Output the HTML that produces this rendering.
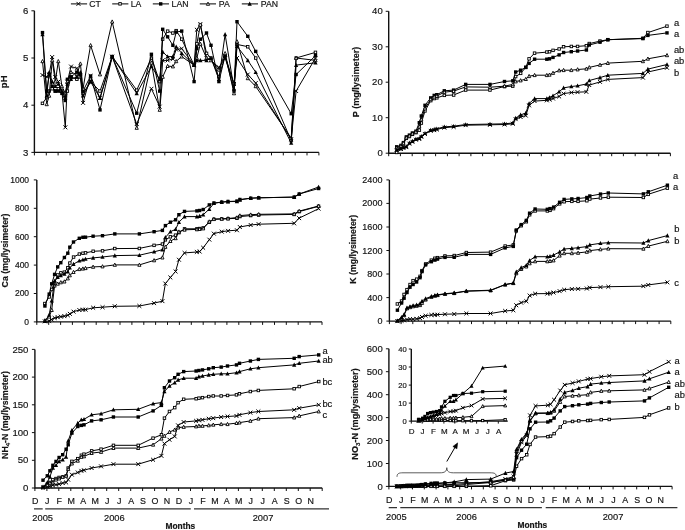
<!DOCTYPE html>
<html><head><meta charset="utf-8"><title>Leachate chemistry</title>
<style>
html,body{margin:0;padding:0;background:#fff}
body{width:685px;height:530px;overflow:hidden}
svg{display:block;font-family:"Liberation Sans",sans-serif;fill:#151515;stroke:#151515;stroke-width:0.18;will-change:transform;filter:grayscale(1)}
.ax{fill:none;stroke:#111;stroke-width:1.4}
.tk{fill:none;stroke:#111;stroke-width:1}
.br{fill:none;stroke:#333;stroke-width:0.8}
.ul{fill:none;stroke:#333;stroke-width:1.1}
.ln{fill:none;stroke:#000;stroke-width:1;stroke-linejoin:round}
.mk{fill:none;stroke:#000;stroke-width:1}
.os{fill:#fff;stroke:#000;stroke-width:0.9}
.fs{fill:#000;stroke:none}
</style></head>
<body>
<svg width="685" height="530" viewBox="0 0 685 530">
<rect width="685" height="530" fill="#fff" stroke="none"/>
<path class="ax" d="M34.4 10.8V152.4H318.9"/>
<text transform="translate(28.4 155.6) scale(1 1)" font-size="9.6" text-anchor="end">3</text>
<text transform="translate(28.4 108.4) scale(1 1)" font-size="9.6" text-anchor="end">4</text>
<text transform="translate(28.4 61.2) scale(1 1)" font-size="9.6" text-anchor="end">5</text>
<text transform="translate(28.4 14) scale(1 1)" font-size="9.6" text-anchor="end">6</text>
<path class="tk" d="M31.4 152.4h3M31.4 105.2h3M31.4 58h3M31.4 10.8h3M34.4 152.4v3M46.3 152.4v3M58.1 152.4v3M70 152.4v3M81.8 152.4v3M93.7 152.4v3M105.5 152.4v3M117.4 152.4v3M129.2 152.4v3M141.1 152.4v3M152.9 152.4v3M164.8 152.4v3M176.7 152.4v3M188.5 152.4v3M200.4 152.4v3M212.2 152.4v3M224.1 152.4v3M235.9 152.4v3M247.8 152.4v3M259.6 152.4v3M271.5 152.4v3M283.3 152.4v3M295.2 152.4v3M307 152.4v3M318.9 152.4v3"/>
<polyline class="ln" points="42.5,75 46.7,76.9 49.2,74.5 52.2,57.1 55.3,76.9 58.3,81.6 61.9,91.1 65.3,127.4 67.4,81.6 71,66.5 76.8,68.4 80.4,76.9 83,102.9 90.6,76 100,98.1 112.2,56.6 136.7,124.1 151.4,88.7 159.7,106.6 162.7,60.4 167.6,60.4 172.9,59 176.2,49.5 181.7,48.6 194.1,65.1 196.8,29.7 200.4,24.1 206.5,58 211,60.4 218.9,67.5 225.1,58 234,84 237,58 247.8,74.5 255.7,83 291.2,139.2 296.1,91.1 315.5,58"/>
<g><path d="M40.5 73.1L44.4 77M40.5 77L44.4 73.1" class="mk"/><path d="M44.8 75L48.7 78.9M44.8 78.9L48.7 75" class="mk"/><path d="M47.3 72.6L51.2 76.5M47.3 76.5L51.2 72.6" class="mk"/><path d="M50.2 55.1L54.1 59M50.2 59L54.1 55.1" class="mk"/><path d="M53.3 75L57.2 78.9M53.3 78.9L57.2 75" class="mk"/><path d="M56.4 79.7L60.3 83.6M56.4 83.6L60.3 79.7" class="mk"/><path d="M60 89.1L63.9 93M60 93L63.9 89.1" class="mk"/><path d="M63.4 125.4L67.3 129.3M63.4 129.3L67.3 125.4" class="mk"/><path d="M65.4 79.7L69.3 83.6M65.4 83.6L69.3 79.7" class="mk"/><path d="M69.1 64.6L73 68.5M69.1 68.5L73 64.6" class="mk"/><path d="M74.9 66.5L78.8 70.4M74.9 70.4L78.8 66.5" class="mk"/><path d="M78.4 75L82.3 78.9M78.4 78.9L82.3 75" class="mk"/><path d="M81.1 100.9L85 104.8M81.1 104.8L85 100.9" class="mk"/><path d="M88.6 74L92.5 77.9M88.6 77.9L92.5 74" class="mk"/><path d="M98 96.2L101.9 100.1M98 100.1L101.9 96.2" class="mk"/><path d="M110.2 54.7L114.1 58.6M110.2 58.6L114.1 54.7" class="mk"/><path d="M134.8 122.1L138.7 126M134.8 126L138.7 122.1" class="mk"/><path d="M149.5 86.8L153.4 90.7M149.5 90.7L153.4 86.8" class="mk"/><path d="M157.7 104.7L161.6 108.6M157.7 108.6L161.6 104.7" class="mk"/><path d="M160.7 58.4L164.6 62.3M160.7 62.3L164.6 58.4" class="mk"/><path d="M165.7 58.4L169.6 62.3M165.7 62.3L169.6 58.4" class="mk"/><path d="M170.9 57L174.8 60.9M170.9 60.9L174.8 57" class="mk"/><path d="M174.2 47.6L178.1 51.5M174.2 51.5L178.1 47.6" class="mk"/><path d="M179.8 46.6L183.7 50.5M179.8 50.5L183.7 46.6" class="mk"/><path d="M192.1 63.2L196 67.1M192.1 67.1L196 63.2" class="mk"/><path d="M194.9 27.8L198.8 31.7M194.9 31.7L198.8 27.8" class="mk"/><path d="M198.4 22.1L202.3 26M198.4 26L202.3 22.1" class="mk"/><path d="M204.6 56.1L208.5 60M204.6 60L208.5 56.1" class="mk"/><path d="M209.1 58.4L213 62.3M209.1 62.3L213 58.4" class="mk"/><path d="M216.9 65.5L220.8 69.4M216.9 69.4L220.8 65.5" class="mk"/><path d="M223.2 56.1L227.1 60M223.2 60L227.1 56.1" class="mk"/><path d="M232.1 82L236 85.9M232.1 85.9L236 82" class="mk"/><path d="M235 56.1L238.9 60M235 60L238.9 56.1" class="mk"/><path d="M245.8 72.6L249.7 76.5M245.8 76.5L249.7 72.6" class="mk"/><path d="M253.8 81.1L257.7 85M253.8 85L257.7 81.1" class="mk"/><path d="M289.2 137.2L293.1 141.1M289.2 141.1L293.1 137.2" class="mk"/><path d="M294.2 89.1L298.1 93M294.2 93L298.1 89.1" class="mk"/><path d="M313.5 56.1L317.4 60M313.5 60L317.4 56.1" class="mk"/></g>
<polyline class="ln" points="42.5,103.3 46.7,97.7 49.2,91.1 52.2,88.7 55.3,91.1 58.3,88.7 61.9,91.1 65.3,95.8 67.4,91.1 71,76.9 76.8,79.3 80.4,76.9 83,93.4 90.6,81.6 100,91.1 112.2,56.6 136.7,90.1 151.4,58 159.7,81.6 162.7,39.2 167.6,31.1 172.9,33 176.2,30.7 181.7,39.2 194.1,65.1 196.8,43.9 200.4,25 206.5,53.3 211,58 218.9,76.9 225.1,55.7 234,84 237,44.4 247.8,46.7 255.7,58 291.2,140.6 296.1,58 315.5,52.4"/>
<g><rect x="41.2" y="102.1" width="2.5" height="2.5" class="os"/><rect x="45.5" y="96.4" width="2.5" height="2.5" class="os"/><rect x="48" y="89.8" width="2.5" height="2.5" class="os"/><rect x="50.9" y="87.5" width="2.5" height="2.5" class="os"/><rect x="54" y="89.8" width="2.5" height="2.5" class="os"/><rect x="57.1" y="87.5" width="2.5" height="2.5" class="os"/><rect x="60.7" y="89.8" width="2.5" height="2.5" class="os"/><rect x="64.1" y="94.5" width="2.5" height="2.5" class="os"/><rect x="66.1" y="89.8" width="2.5" height="2.5" class="os"/><rect x="69.8" y="75.7" width="2.5" height="2.5" class="os"/><rect x="75.6" y="78" width="2.5" height="2.5" class="os"/><rect x="79.1" y="75.7" width="2.5" height="2.5" class="os"/><rect x="81.8" y="92.2" width="2.5" height="2.5" class="os"/><rect x="89.3" y="80.4" width="2.5" height="2.5" class="os"/><rect x="98.7" y="89.8" width="2.5" height="2.5" class="os"/><rect x="110.9" y="55.4" width="2.5" height="2.5" class="os"/><rect x="135.5" y="88.9" width="2.5" height="2.5" class="os"/><rect x="150.2" y="56.8" width="2.5" height="2.5" class="os"/><rect x="158.4" y="80.4" width="2.5" height="2.5" class="os"/><rect x="161.4" y="37.9" width="2.5" height="2.5" class="os"/><rect x="166.4" y="29.9" width="2.5" height="2.5" class="os"/><rect x="171.6" y="31.8" width="2.5" height="2.5" class="os"/><rect x="174.9" y="29.4" width="2.5" height="2.5" class="os"/><rect x="180.5" y="37.9" width="2.5" height="2.5" class="os"/><rect x="192.8" y="63.9" width="2.5" height="2.5" class="os"/><rect x="195.6" y="42.6" width="2.5" height="2.5" class="os"/><rect x="199.1" y="23.8" width="2.5" height="2.5" class="os"/><rect x="205.3" y="52.1" width="2.5" height="2.5" class="os"/><rect x="209.8" y="56.8" width="2.5" height="2.5" class="os"/><rect x="217.6" y="75.7" width="2.5" height="2.5" class="os"/><rect x="223.9" y="54.4" width="2.5" height="2.5" class="os"/><rect x="232.8" y="82.7" width="2.5" height="2.5" class="os"/><rect x="235.7" y="43.1" width="2.5" height="2.5" class="os"/><rect x="246.5" y="45.5" width="2.5" height="2.5" class="os"/><rect x="254.5" y="56.8" width="2.5" height="2.5" class="os"/><rect x="289.9" y="139.4" width="2.5" height="2.5" class="os"/><rect x="294.9" y="56.8" width="2.5" height="2.5" class="os"/><rect x="314.2" y="51.1" width="2.5" height="2.5" class="os"/></g>
<polyline class="ln" points="42.5,32.6 46.7,91.1 49.2,74.5 52.2,86.3 55.3,91.1 58.3,91.1 61.9,93.4 65.3,100.5 67.4,79.3 71,76.9 76.8,72.2 80.4,74.5 83,91.1 90.6,76 100,109.9 112.2,56.6 136.7,113.2 151.4,54.3 159.7,91.1 162.7,29.3 167.6,36.8 172.9,45.3 176.2,32.1 181.7,31.1 194.1,81.6 196.8,48.6 200.4,39.2 206.5,33 211,45.3 218.9,81.6 225.1,55.7 234,91.1 237,21.7 247.8,36.3 255.7,51.4 291.2,113.7 296.1,74.5 315.5,55.7"/>
<g><rect x="40.8" y="30.9" width="3.4" height="3.4" class="fs"/><rect x="45" y="89.4" width="3.4" height="3.4" class="fs"/><rect x="47.5" y="72.8" width="3.4" height="3.4" class="fs"/><rect x="50.5" y="84.6" width="3.4" height="3.4" class="fs"/><rect x="53.6" y="89.4" width="3.4" height="3.4" class="fs"/><rect x="56.6" y="89.4" width="3.4" height="3.4" class="fs"/><rect x="60.2" y="91.7" width="3.4" height="3.4" class="fs"/><rect x="63.6" y="98.8" width="3.4" height="3.4" class="fs"/><rect x="65.7" y="77.6" width="3.4" height="3.4" class="fs"/><rect x="69.3" y="75.2" width="3.4" height="3.4" class="fs"/><rect x="75.1" y="70.5" width="3.4" height="3.4" class="fs"/><rect x="78.7" y="72.8" width="3.4" height="3.4" class="fs"/><rect x="81.3" y="89.4" width="3.4" height="3.4" class="fs"/><rect x="88.9" y="74.3" width="3.4" height="3.4" class="fs"/><rect x="98.3" y="108.2" width="3.4" height="3.4" class="fs"/><rect x="110.5" y="54.9" width="3.4" height="3.4" class="fs"/><rect x="135" y="111.5" width="3.4" height="3.4" class="fs"/><rect x="149.7" y="52.6" width="3.4" height="3.4" class="fs"/><rect x="158" y="89.4" width="3.4" height="3.4" class="fs"/><rect x="161" y="27.6" width="3.4" height="3.4" class="fs"/><rect x="165.9" y="35.1" width="3.4" height="3.4" class="fs"/><rect x="171.2" y="43.6" width="3.4" height="3.4" class="fs"/><rect x="174.5" y="30.4" width="3.4" height="3.4" class="fs"/><rect x="180" y="29.4" width="3.4" height="3.4" class="fs"/><rect x="192.4" y="79.9" width="3.4" height="3.4" class="fs"/><rect x="195.1" y="46.9" width="3.4" height="3.4" class="fs"/><rect x="198.7" y="37.5" width="3.4" height="3.4" class="fs"/><rect x="204.8" y="31.3" width="3.4" height="3.4" class="fs"/><rect x="209.3" y="43.6" width="3.4" height="3.4" class="fs"/><rect x="217.2" y="79.9" width="3.4" height="3.4" class="fs"/><rect x="223.4" y="54" width="3.4" height="3.4" class="fs"/><rect x="232.3" y="89.4" width="3.4" height="3.4" class="fs"/><rect x="235.3" y="20" width="3.4" height="3.4" class="fs"/><rect x="246.1" y="34.6" width="3.4" height="3.4" class="fs"/><rect x="254" y="49.7" width="3.4" height="3.4" class="fs"/><rect x="289.5" y="112" width="3.4" height="3.4" class="fs"/><rect x="294.4" y="72.8" width="3.4" height="3.4" class="fs"/><rect x="313.8" y="54" width="3.4" height="3.4" class="fs"/></g>
<polyline class="ln" points="42.5,61.3 46.7,104.3 49.2,95.8 52.2,60.4 55.3,81.6 58.3,61.3 61.9,86.3 65.3,93.4 67.4,81.6 71,72.2 76.8,74.5 80.4,63.7 83,88.7 90.6,45.3 100,74.5 112.2,21.7 136.7,127.9 151.4,62.8 159.7,109.9 162.7,76.9 167.6,66.1 172.9,66.5 176.2,61.3 181.7,56.6 194.1,65.1 196.8,58 200.4,43.9 206.5,58 211,60.4 218.9,69.8 225.1,53.3 234,93.4 237,41.5 247.8,78.3 255.7,86.3 291.2,138.2 296.1,58 315.5,60.4"/>
<g><path d="M42.5 59.5L44.1 62.7L40.9 62.7Z" class="os"/><path d="M46.7 102.5L48.3 105.7L45.1 105.7Z" class="os"/><path d="M49.2 94L50.8 97.2L47.6 97.2Z" class="os"/><path d="M52.2 58.6L53.8 61.8L50.6 61.8Z" class="os"/><path d="M55.3 79.8L56.9 83L53.7 83Z" class="os"/><path d="M58.3 59.5L59.9 62.7L56.7 62.7Z" class="os"/><path d="M61.9 84.5L63.5 87.7L60.3 87.7Z" class="os"/><path d="M65.3 91.6L66.9 94.8L63.7 94.8Z" class="os"/><path d="M67.4 79.8L69 83L65.8 83Z" class="os"/><path d="M71 70.4L72.6 73.6L69.4 73.6Z" class="os"/><path d="M76.8 72.7L78.4 75.9L75.2 75.9Z" class="os"/><path d="M80.4 61.9L82 65.1L78.8 65.1Z" class="os"/><path d="M83 86.9L84.6 90.1L81.4 90.1Z" class="os"/><path d="M90.6 43.5L92.2 46.7L89 46.7Z" class="os"/><path d="M100 72.7L101.6 75.9L98.4 75.9Z" class="os"/><path d="M112.2 19.9L113.8 23.1L110.6 23.1Z" class="os"/><path d="M136.7 126.1L138.3 129.3L135.1 129.3Z" class="os"/><path d="M151.4 61L153 64.2L149.8 64.2Z" class="os"/><path d="M159.7 108.1L161.3 111.3L158.1 111.3Z" class="os"/><path d="M162.7 75.1L164.3 78.3L161.1 78.3Z" class="os"/><path d="M167.6 64.3L169.2 67.5L166 67.5Z" class="os"/><path d="M172.9 64.7L174.5 67.9L171.3 67.9Z" class="os"/><path d="M176.2 59.5L177.8 62.7L174.6 62.7Z" class="os"/><path d="M181.7 54.8L183.3 58L180.1 58Z" class="os"/><path d="M194.1 63.3L195.7 66.5L192.5 66.5Z" class="os"/><path d="M196.8 56.2L198.4 59.4L195.2 59.4Z" class="os"/><path d="M200.4 42.1L202 45.3L198.8 45.3Z" class="os"/><path d="M206.5 56.2L208.1 59.4L204.9 59.4Z" class="os"/><path d="M211 58.6L212.6 61.8L209.4 61.8Z" class="os"/><path d="M218.9 68L220.5 71.2L217.3 71.2Z" class="os"/><path d="M225.1 51.5L226.7 54.7L223.5 54.7Z" class="os"/><path d="M234 91.6L235.6 94.8L232.4 94.8Z" class="os"/><path d="M237 39.7L238.6 42.9L235.4 42.9Z" class="os"/><path d="M247.8 76.5L249.4 79.7L246.2 79.7Z" class="os"/><path d="M255.7 84.5L257.3 87.7L254.1 87.7Z" class="os"/><path d="M291.2 136.4L292.8 139.6L289.6 139.6Z" class="os"/><path d="M296.1 56.2L297.7 59.4L294.5 59.4Z" class="os"/><path d="M315.5 58.6L317.1 61.8L313.9 61.8Z" class="os"/></g>
<polyline class="ln" points="42.5,34.4 46.7,95.8 49.2,72.2 52.2,81.6 55.3,86.3 58.3,84 61.9,91.1 65.3,98.1 67.4,84 71,79.3 76.8,76.9 80.4,72.2 83,95.8 90.6,81.6 100,98.1 112.2,56.6 136.7,93.4 151.4,66.5 159.7,79.3 162.7,51.9 167.6,56.6 172.9,56.6 176.2,46.7 181.7,53.3 194.1,65.1 196.8,60.4 200.4,60.4 206.5,60.4 211,58 218.9,79.3 225.1,34.4 234,88.7 237,46.2 247.8,60.4 255.7,72.2 291.2,143 296.1,65.1 315.5,62.8"/>
<g><path d="M42.5 32.1L44.6 36.2L40.4 36.2Z" class="fs"/><path d="M46.7 93.5L48.8 97.6L44.6 97.6Z" class="fs"/><path d="M49.2 69.9L51.3 74L47.1 74Z" class="fs"/><path d="M52.2 79.3L54.3 83.4L50.1 83.4Z" class="fs"/><path d="M55.3 84L57.4 88.1L53.2 88.1Z" class="fs"/><path d="M58.3 81.7L60.4 85.8L56.2 85.8Z" class="fs"/><path d="M61.9 88.8L64 92.9L59.8 92.9Z" class="fs"/><path d="M65.3 95.8L67.4 99.9L63.2 99.9Z" class="fs"/><path d="M67.4 81.7L69.5 85.8L65.3 85.8Z" class="fs"/><path d="M71 77L73.1 81.1L68.9 81.1Z" class="fs"/><path d="M76.8 74.6L78.9 78.7L74.7 78.7Z" class="fs"/><path d="M80.4 69.9L82.5 74L78.3 74Z" class="fs"/><path d="M83 93.5L85.1 97.6L80.9 97.6Z" class="fs"/><path d="M90.6 79.3L92.7 83.4L88.5 83.4Z" class="fs"/><path d="M100 95.8L102.1 99.9L97.9 99.9Z" class="fs"/><path d="M112.2 54.3L114.3 58.4L110.1 58.4Z" class="fs"/><path d="M136.7 91.1L138.8 95.2L134.6 95.2Z" class="fs"/><path d="M151.4 64.2L153.5 68.3L149.3 68.3Z" class="fs"/><path d="M159.7 77L161.8 81.1L157.6 81.1Z" class="fs"/><path d="M162.7 49.6L164.8 53.7L160.6 53.7Z" class="fs"/><path d="M167.6 54.3L169.7 58.4L165.5 58.4Z" class="fs"/><path d="M172.9 54.3L175 58.4L170.8 58.4Z" class="fs"/><path d="M176.2 44.4L178.3 48.5L174.1 48.5Z" class="fs"/><path d="M181.7 51L183.8 55.1L179.6 55.1Z" class="fs"/><path d="M194.1 62.8L196.2 66.9L192 66.9Z" class="fs"/><path d="M196.8 58.1L198.9 62.2L194.7 62.2Z" class="fs"/><path d="M200.4 58.1L202.5 62.2L198.3 62.2Z" class="fs"/><path d="M206.5 58.1L208.6 62.2L204.4 62.2Z" class="fs"/><path d="M211 55.7L213.1 59.8L208.9 59.8Z" class="fs"/><path d="M218.9 77L221 81.1L216.8 81.1Z" class="fs"/><path d="M225.1 32.1L227.2 36.2L223 36.2Z" class="fs"/><path d="M234 86.4L236.1 90.5L231.9 90.5Z" class="fs"/><path d="M237 43.9L239.1 48L234.9 48Z" class="fs"/><path d="M247.8 58.1L249.9 62.2L245.7 62.2Z" class="fs"/><path d="M255.7 69.9L257.8 74L253.6 74Z" class="fs"/><path d="M291.2 140.7L293.3 144.8L289.1 144.8Z" class="fs"/><path d="M296.1 62.8L298.2 66.9L294 66.9Z" class="fs"/><path d="M315.5 60.5L317.6 64.6L313.4 64.6Z" class="fs"/></g>
<path class="ax" d="M388.7 11.3V153.2H670.4"/>
<text transform="translate(382.7 156.3) scale(1 1)" font-size="9.5" text-anchor="end">0</text>
<text transform="translate(382.7 120.9) scale(1 1)" font-size="9.5" text-anchor="end">10</text>
<text transform="translate(382.7 85.4) scale(1 1)" font-size="9.5" text-anchor="end">20</text>
<text transform="translate(382.7 49.9) scale(1 1)" font-size="9.5" text-anchor="end">30</text>
<text transform="translate(382.7 14.4) scale(1 1)" font-size="9.5" text-anchor="end">40</text>
<path class="tk" d="M385.7 153.2h3M385.7 117.7h3M385.7 82.2h3M385.7 46.8h3M385.7 11.3h3M388.7 153.2v3M400.4 153.2v3M412.2 153.2v3M423.9 153.2v3M435.6 153.2v3M447.4 153.2v3M459.1 153.2v3M470.9 153.2v3M482.6 153.2v3M494.3 153.2v3M506.1 153.2v3M517.8 153.2v3M529.5 153.2v3M541.3 153.2v3M553 153.2v3M564.8 153.2v3M576.5 153.2v3M588.2 153.2v3M600 153.2v3M611.7 153.2v3M623.4 153.2v3M635.2 153.2v3M646.9 153.2v3M658.7 153.2v3M670.4 153.2v3"/>
<polyline class="ln" points="396.7,150 400.9,148.9 403.4,147.9 406.3,147.2 409.4,143.6 412.4,141.8 415.9,139.7 419.3,139 421.3,136.9 425,134 430.7,130.9 434.2,130.1 436.8,129.4 444.3,127.7 453.6,126.9 465.7,125.2 490,124.8 504.5,124.5 512.8,123.8 515.7,119.1 520.6,117 525.8,115.6 529.1,105.3 534.6,101.1 546.8,100.3 549.5,99.6 553,98.6 559.1,96.4 563.6,93.6 571.3,92.5 577.6,92.2 586.4,91.8 589.3,85.1 600,81.9 607.8,79.4 642.9,77.6 647.9,72 667,67.7"/>
<g><path d="M394.7 148.1L398.6 152M394.7 152L398.6 148.1" class="mk"/><path d="M399 147L402.9 150.9M399 150.9L402.9 147" class="mk"/><path d="M401.4 145.9L405.3 149.8M401.4 149.8L405.3 145.9" class="mk"/><path d="M404.4 145.2L408.3 149.1M404.4 149.1L408.3 145.2" class="mk"/><path d="M407.4 141.7L411.3 145.6M407.4 145.6L411.3 141.7" class="mk"/><path d="M410.5 139.9L414.4 143.8M410.5 143.8L414.4 139.9" class="mk"/><path d="M414 137.8L417.9 141.7M414 141.7L417.9 137.8" class="mk"/><path d="M417.4 137.1L421.3 141M417.4 141L421.3 137.1" class="mk"/><path d="M419.4 134.9L423.3 138.8M419.4 138.8L423.3 134.9" class="mk"/><path d="M423 132.1L426.9 136M423 136L426.9 132.1" class="mk"/><path d="M428.8 128.9L432.7 132.8M428.8 132.8L432.7 128.9" class="mk"/><path d="M432.3 128.2L436.2 132.1M432.3 132.1L436.2 128.2" class="mk"/><path d="M434.9 127.5L438.8 131.4M434.9 131.4L438.8 127.5" class="mk"/><path d="M442.4 125.7L446.3 129.6M442.4 129.6L446.3 125.7" class="mk"/><path d="M451.7 125L455.6 128.9M451.7 128.9L455.6 125" class="mk"/><path d="M463.7 123.2L467.6 127.1M463.7 127.1L467.6 123.2" class="mk"/><path d="M488 122.9L491.9 126.8M488 126.8L491.9 122.9" class="mk"/><path d="M502.6 122.5L506.5 126.4M502.6 126.4L506.5 122.5" class="mk"/><path d="M510.8 121.8L514.7 125.7M510.8 125.7L514.7 121.8" class="mk"/><path d="M513.7 117.2L517.6 121.1M513.7 121.1L517.6 117.2" class="mk"/><path d="M518.7 115.1L522.6 119M518.7 119L522.6 115.1" class="mk"/><path d="M523.8 113.6L527.7 117.5M523.8 117.5L527.7 113.6" class="mk"/><path d="M527.1 103.4L531 107.3M527.1 107.3L531 103.4" class="mk"/><path d="M532.6 99.1L536.5 103M532.6 103L536.5 99.1" class="mk"/><path d="M544.9 98.4L548.8 102.3M544.9 102.3L548.8 98.4" class="mk"/><path d="M547.6 97.7L551.5 101.6M547.6 101.6L551.5 97.7" class="mk"/><path d="M551.1 96.6L555 100.5M551.1 100.5L555 96.6" class="mk"/><path d="M557.2 94.5L561.1 98.4M557.2 98.4L561.1 94.5" class="mk"/><path d="M561.6 91.7L565.5 95.6M561.6 95.6L565.5 91.7" class="mk"/><path d="M569.4 90.6L573.3 94.5M569.4 94.5L573.3 90.6" class="mk"/><path d="M575.6 90.2L579.5 94.1M575.6 94.1L579.5 90.2" class="mk"/><path d="M584.4 89.9L588.3 93.8M584.4 93.8L588.3 89.9" class="mk"/><path d="M587.3 83.1L591.2 87M587.3 87L591.2 83.1" class="mk"/><path d="M598 79.9L601.9 83.8M598 83.8L601.9 79.9" class="mk"/><path d="M605.9 77.5L609.8 81.4M605.9 81.4L609.8 77.5" class="mk"/><path d="M641 75.7L644.9 79.6M641 79.6L644.9 75.7" class="mk"/><path d="M645.9 70L649.8 73.9M645.9 73.9L649.8 70" class="mk"/><path d="M665 65.8L668.9 69.7M665 69.7L668.9 65.8" class="mk"/></g>
<polyline class="ln" points="396.7,152.5 400.9,146.8 403.4,144 406.3,138.3 409.4,136.5 412.4,134.4 415.9,132.6 419.3,130.1 421.3,123 425,111 430.7,100.7 434.2,98.6 436.8,97.9 444.3,95.4 453.6,95 465.7,90.1 490,90.1 504.5,86.5 512.8,86.2 515.7,76.6 520.6,73.4 525.8,67.4 529.1,58.8 534.6,53.2 546.8,52.1 549.5,51.7 553,50.3 559.1,48.9 563.6,46.8 571.3,46.4 577.6,46.4 586.4,45.7 589.3,43.6 600,41.1 607.8,39.7 642.9,38.3 647.9,32.6 667,26.2"/>
<g><rect x="395.4" y="151.2" width="2.5" height="2.5" class="os"/><rect x="399.7" y="145.6" width="2.5" height="2.5" class="os"/><rect x="402.1" y="142.7" width="2.5" height="2.5" class="os"/><rect x="405.1" y="137.1" width="2.5" height="2.5" class="os"/><rect x="408.1" y="135.3" width="2.5" height="2.5" class="os"/><rect x="411.2" y="133.1" width="2.5" height="2.5" class="os"/><rect x="414.7" y="131.4" width="2.5" height="2.5" class="os"/><rect x="418.1" y="128.9" width="2.5" height="2.5" class="os"/><rect x="420.1" y="121.8" width="2.5" height="2.5" class="os"/><rect x="423.7" y="109.7" width="2.5" height="2.5" class="os"/><rect x="429.5" y="99.4" width="2.5" height="2.5" class="os"/><rect x="433" y="97.3" width="2.5" height="2.5" class="os"/><rect x="435.6" y="96.6" width="2.5" height="2.5" class="os"/><rect x="443.1" y="94.1" width="2.5" height="2.5" class="os"/><rect x="452.4" y="93.8" width="2.5" height="2.5" class="os"/><rect x="464.4" y="88.8" width="2.5" height="2.5" class="os"/><rect x="488.7" y="88.8" width="2.5" height="2.5" class="os"/><rect x="503.3" y="85.3" width="2.5" height="2.5" class="os"/><rect x="511.5" y="84.9" width="2.5" height="2.5" class="os"/><rect x="514.4" y="75.3" width="2.5" height="2.5" class="os"/><rect x="519.4" y="72.1" width="2.5" height="2.5" class="os"/><rect x="524.5" y="66.1" width="2.5" height="2.5" class="os"/><rect x="527.8" y="57.6" width="2.5" height="2.5" class="os"/><rect x="533.3" y="51.9" width="2.5" height="2.5" class="os"/><rect x="545.6" y="50.8" width="2.5" height="2.5" class="os"/><rect x="548.3" y="50.5" width="2.5" height="2.5" class="os"/><rect x="551.8" y="49.1" width="2.5" height="2.5" class="os"/><rect x="557.9" y="47.7" width="2.5" height="2.5" class="os"/><rect x="562.3" y="45.5" width="2.5" height="2.5" class="os"/><rect x="570.1" y="45.2" width="2.5" height="2.5" class="os"/><rect x="576.3" y="45.2" width="2.5" height="2.5" class="os"/><rect x="585.1" y="44.5" width="2.5" height="2.5" class="os"/><rect x="588" y="42.3" width="2.5" height="2.5" class="os"/><rect x="598.7" y="39.8" width="2.5" height="2.5" class="os"/><rect x="606.6" y="38.4" width="2.5" height="2.5" class="os"/><rect x="641.7" y="37" width="2.5" height="2.5" class="os"/><rect x="646.6" y="31.3" width="2.5" height="2.5" class="os"/><rect x="665.7" y="24.9" width="2.5" height="2.5" class="os"/></g>
<polyline class="ln" points="396.7,146.8 400.9,145.4 403.4,142.6 406.3,136.9 409.4,135.1 412.4,133 415.9,131.2 419.3,122.7 421.3,116 425,105.3 430.7,97.9 434.2,95.4 436.8,94.7 444.3,90.8 453.6,90.1 465.7,84.4 490,84.4 504.5,81.5 512.8,80.8 515.7,72 520.6,70.2 525.8,67.4 529.1,63.4 534.6,59.2 546.8,59.2 549.5,58.8 553,57.4 559.1,54.9 563.6,52.5 571.3,51.7 577.6,51 586.4,50 589.3,45 600,42.2 607.8,39.7 642.9,38.6 647.9,35.4 667,32.9"/>
<g><rect x="395" y="145.1" width="3.4" height="3.4" class="fs"/><rect x="399.2" y="143.7" width="3.4" height="3.4" class="fs"/><rect x="401.7" y="140.9" width="3.4" height="3.4" class="fs"/><rect x="404.6" y="135.2" width="3.4" height="3.4" class="fs"/><rect x="407.7" y="133.4" width="3.4" height="3.4" class="fs"/><rect x="410.7" y="131.3" width="3.4" height="3.4" class="fs"/><rect x="414.2" y="129.5" width="3.4" height="3.4" class="fs"/><rect x="417.6" y="121" width="3.4" height="3.4" class="fs"/><rect x="419.6" y="114.3" width="3.4" height="3.4" class="fs"/><rect x="423.3" y="103.6" width="3.4" height="3.4" class="fs"/><rect x="429" y="96.2" width="3.4" height="3.4" class="fs"/><rect x="432.5" y="93.7" width="3.4" height="3.4" class="fs"/><rect x="435.1" y="93" width="3.4" height="3.4" class="fs"/><rect x="442.6" y="89.1" width="3.4" height="3.4" class="fs"/><rect x="451.9" y="88.4" width="3.4" height="3.4" class="fs"/><rect x="464" y="82.7" width="3.4" height="3.4" class="fs"/><rect x="488.3" y="82.7" width="3.4" height="3.4" class="fs"/><rect x="502.8" y="79.8" width="3.4" height="3.4" class="fs"/><rect x="511.1" y="79.1" width="3.4" height="3.4" class="fs"/><rect x="514" y="70.3" width="3.4" height="3.4" class="fs"/><rect x="518.9" y="68.5" width="3.4" height="3.4" class="fs"/><rect x="524.1" y="65.7" width="3.4" height="3.4" class="fs"/><rect x="527.4" y="61.7" width="3.4" height="3.4" class="fs"/><rect x="532.9" y="57.5" width="3.4" height="3.4" class="fs"/><rect x="545.1" y="57.5" width="3.4" height="3.4" class="fs"/><rect x="547.8" y="57.1" width="3.4" height="3.4" class="fs"/><rect x="551.3" y="55.7" width="3.4" height="3.4" class="fs"/><rect x="557.4" y="53.2" width="3.4" height="3.4" class="fs"/><rect x="561.9" y="50.8" width="3.4" height="3.4" class="fs"/><rect x="569.6" y="50" width="3.4" height="3.4" class="fs"/><rect x="575.9" y="49.3" width="3.4" height="3.4" class="fs"/><rect x="584.7" y="48.3" width="3.4" height="3.4" class="fs"/><rect x="587.6" y="43.3" width="3.4" height="3.4" class="fs"/><rect x="598.3" y="40.5" width="3.4" height="3.4" class="fs"/><rect x="606.1" y="38" width="3.4" height="3.4" class="fs"/><rect x="641.2" y="36.9" width="3.4" height="3.4" class="fs"/><rect x="646.2" y="33.7" width="3.4" height="3.4" class="fs"/><rect x="665.3" y="31.2" width="3.4" height="3.4" class="fs"/></g>
<polyline class="ln" points="396.7,147.9 400.9,146.1 403.4,143.3 406.3,137.6 409.4,135.8 412.4,133.7 415.9,131.9 419.3,126.6 421.3,119.5 425,108.5 430.7,99.3 434.2,96.8 436.8,96.1 444.3,92.2 453.6,91.1 465.7,86.9 490,87.2 504.5,86.2 512.8,84.4 515.7,81.5 520.6,80.5 525.8,79.1 529.1,76.2 534.6,75.2 546.8,75.2 549.5,74.8 553,73 559.1,70.5 563.6,70.2 571.3,70.2 577.6,69.5 586.4,68.8 589.3,67.4 600,64.9 607.8,63.1 642.9,61.3 647.9,58.8 667,55.3"/>
<g><path d="M396.7 146.1L398.3 149.3L395.1 149.3Z" class="os"/><path d="M400.9 144.3L402.5 147.5L399.3 147.5Z" class="os"/><path d="M403.4 141.5L405 144.7L401.8 144.7Z" class="os"/><path d="M406.3 135.8L407.9 139L404.7 139Z" class="os"/><path d="M409.4 134L411 137.2L407.8 137.2Z" class="os"/><path d="M412.4 131.9L414 135.1L410.8 135.1Z" class="os"/><path d="M415.9 130.1L417.5 133.3L414.3 133.3Z" class="os"/><path d="M419.3 124.8L420.9 128L417.7 128Z" class="os"/><path d="M421.3 117.7L422.9 120.9L419.7 120.9Z" class="os"/><path d="M425 106.7L426.6 109.9L423.4 109.9Z" class="os"/><path d="M430.7 97.5L432.3 100.7L429.1 100.7Z" class="os"/><path d="M434.2 95L435.8 98.2L432.6 98.2Z" class="os"/><path d="M436.8 94.3L438.4 97.5L435.2 97.5Z" class="os"/><path d="M444.3 90.4L445.9 93.6L442.7 93.6Z" class="os"/><path d="M453.6 89.3L455.2 92.5L452 92.5Z" class="os"/><path d="M465.7 85.1L467.3 88.3L464.1 88.3Z" class="os"/><path d="M490 85.4L491.6 88.6L488.4 88.6Z" class="os"/><path d="M504.5 84.4L506.1 87.6L502.9 87.6Z" class="os"/><path d="M512.8 82.6L514.4 85.8L511.2 85.8Z" class="os"/><path d="M515.7 79.7L517.3 82.9L514.1 82.9Z" class="os"/><path d="M520.6 78.7L522.2 81.9L519 81.9Z" class="os"/><path d="M525.8 77.3L527.4 80.5L524.2 80.5Z" class="os"/><path d="M529.1 74.4L530.7 77.6L527.5 77.6Z" class="os"/><path d="M534.6 73.4L536.2 76.6L533 76.6Z" class="os"/><path d="M546.8 73.4L548.4 76.6L545.2 76.6Z" class="os"/><path d="M549.5 73L551.1 76.2L547.9 76.2Z" class="os"/><path d="M553 71.2L554.6 74.4L551.4 74.4Z" class="os"/><path d="M559.1 68.7L560.7 71.9L557.5 71.9Z" class="os"/><path d="M563.6 68.4L565.2 71.6L562 71.6Z" class="os"/><path d="M571.3 68.4L572.9 71.6L569.7 71.6Z" class="os"/><path d="M577.6 67.7L579.2 70.9L576 70.9Z" class="os"/><path d="M586.4 67L588 70.2L584.8 70.2Z" class="os"/><path d="M589.3 65.6L590.9 68.8L587.7 68.8Z" class="os"/><path d="M600 63.1L601.6 66.3L598.4 66.3Z" class="os"/><path d="M607.8 61.3L609.4 64.5L606.2 64.5Z" class="os"/><path d="M642.9 59.5L644.5 62.7L641.3 62.7Z" class="os"/><path d="M647.9 57L649.5 60.2L646.3 60.2Z" class="os"/><path d="M667 53.5L668.6 56.7L665.4 56.7Z" class="os"/></g>
<polyline class="ln" points="396.7,149.7 400.9,148.6 403.4,147.5 406.3,146.5 409.4,142.9 412.4,141.1 415.9,139 419.3,138.3 421.3,136.2 425,133.3 430.7,130.1 434.2,129.4 436.8,128.7 444.3,126.9 453.6,126.2 465.7,124.5 490,124.1 504.5,123.8 512.8,123 515.7,118.1 520.6,114.9 525.8,113.1 529.1,103.5 534.6,98.6 546.8,98.6 549.5,97.5 553,95.7 559.1,91.8 563.6,87.9 571.3,86.5 577.6,85.8 586.4,84 589.3,80.5 600,77.6 607.8,75.2 642.9,73.4 647.9,69.1 667,64.5"/>
<g><path d="M396.7 147.4L398.8 151.5L394.6 151.5Z" class="fs"/><path d="M400.9 146.3L403 150.4L398.8 150.4Z" class="fs"/><path d="M403.4 145.2L405.5 149.3L401.3 149.3Z" class="fs"/><path d="M406.3 144.2L408.4 148.3L404.2 148.3Z" class="fs"/><path d="M409.4 140.6L411.5 144.7L407.3 144.7Z" class="fs"/><path d="M412.4 138.8L414.5 142.9L410.3 142.9Z" class="fs"/><path d="M415.9 136.7L418 140.8L413.8 140.8Z" class="fs"/><path d="M419.3 136L421.4 140.1L417.2 140.1Z" class="fs"/><path d="M421.3 133.9L423.4 138L419.2 138Z" class="fs"/><path d="M425 131L427.1 135.1L422.9 135.1Z" class="fs"/><path d="M430.7 127.8L432.8 131.9L428.6 131.9Z" class="fs"/><path d="M434.2 127.1L436.3 131.2L432.1 131.2Z" class="fs"/><path d="M436.8 126.4L438.9 130.5L434.7 130.5Z" class="fs"/><path d="M444.3 124.6L446.4 128.7L442.2 128.7Z" class="fs"/><path d="M453.6 123.9L455.7 128L451.5 128Z" class="fs"/><path d="M465.7 122.2L467.8 126.3L463.6 126.3Z" class="fs"/><path d="M490 121.8L492.1 125.9L487.9 125.9Z" class="fs"/><path d="M504.5 121.5L506.6 125.6L502.4 125.6Z" class="fs"/><path d="M512.8 120.7L514.9 124.8L510.7 124.8Z" class="fs"/><path d="M515.7 115.8L517.8 119.9L513.6 119.9Z" class="fs"/><path d="M520.6 112.6L522.7 116.7L518.5 116.7Z" class="fs"/><path d="M525.8 110.8L527.9 114.9L523.7 114.9Z" class="fs"/><path d="M529.1 101.2L531.2 105.3L527 105.3Z" class="fs"/><path d="M534.6 96.3L536.7 100.4L532.5 100.4Z" class="fs"/><path d="M546.8 96.3L548.9 100.4L544.7 100.4Z" class="fs"/><path d="M549.5 95.2L551.6 99.3L547.4 99.3Z" class="fs"/><path d="M553 93.4L555.1 97.5L550.9 97.5Z" class="fs"/><path d="M559.1 89.5L561.2 93.6L557 93.6Z" class="fs"/><path d="M563.6 85.6L565.7 89.7L561.5 89.7Z" class="fs"/><path d="M571.3 84.2L573.4 88.3L569.2 88.3Z" class="fs"/><path d="M577.6 83.5L579.7 87.6L575.5 87.6Z" class="fs"/><path d="M586.4 81.7L588.5 85.8L584.3 85.8Z" class="fs"/><path d="M589.3 78.2L591.4 82.3L587.2 82.3Z" class="fs"/><path d="M600 75.3L602.1 79.4L597.9 79.4Z" class="fs"/><path d="M607.8 72.9L609.9 77L605.7 77Z" class="fs"/><path d="M642.9 71.1L645 75.2L640.8 75.2Z" class="fs"/><path d="M647.9 66.8L650 70.9L645.8 70.9Z" class="fs"/><path d="M667 62.2L669.1 66.3L664.9 66.3Z" class="fs"/></g>
<path class="ax" d="M36.8 179.9V321.9H322"/>
<text transform="translate(29.1 324.7) scale(1 1)" font-size="8.5" text-anchor="end">0</text>
<text transform="translate(29.1 296.3) scale(1 1)" font-size="8.5" text-anchor="end">200</text>
<text transform="translate(29.1 267.9) scale(1 1)" font-size="8.5" text-anchor="end">400</text>
<text transform="translate(29.1 239.5) scale(1 1)" font-size="8.5" text-anchor="end">600</text>
<text transform="translate(29.1 211.1) scale(1 1)" font-size="8.5" text-anchor="end">800</text>
<text transform="translate(29.1 182.7) scale(1 1)" font-size="8.5" text-anchor="end">1000</text>
<path class="tk" d="M33.8 321.9h3M33.8 293.5h3M33.8 265.1h3M33.8 236.7h3M33.8 208.3h3M33.8 179.9h3M36.8 321.9v3M48.7 321.9v3M60.6 321.9v3M72.4 321.9v3M84.3 321.9v3M96.2 321.9v3M108.1 321.9v3M120 321.9v3M131.9 321.9v3M143.8 321.9v3M155.6 321.9v3M167.5 321.9v3M179.4 321.9v3M191.3 321.9v3M203.2 321.9v3M215.1 321.9v3M226.9 321.9v3M238.8 321.9v3M250.7 321.9v3M262.6 321.9v3M274.5 321.9v3M286.3 321.9v3M298.2 321.9v3M310.1 321.9v3M322 321.9v3"/>
<polyline class="ln" points="44.9,321.3 49.2,320.9 51.7,319.5 54.6,318 57.7,317.2 60.8,316.7 64.4,316.1 67.8,315.3 69.8,313.9 73.5,311.6 79.3,310.1 82.9,309.6 85.5,309.6 93.1,307.8 102.5,307.2 114.8,306.3 139.4,306 154.1,303.1 162.4,301.2 165.4,283.5 170.4,277.5 175.6,271.4 178.9,259.7 184.5,252.9 196.9,252 199.6,251.5 203.2,247.7 209.3,239.7 213.9,233.6 221.7,231.7 228,230.8 236.9,230.2 239.9,227 250.7,225 258.7,224.2 294.2,223.3 299.2,218.1 318.6,208.7"/>
<g><path d="M42.9 319.4L46.8 323.3M42.9 323.3L46.8 319.4" class="mk"/><path d="M47.2 319L51.1 322.9M47.2 322.9L51.1 319" class="mk"/><path d="M49.7 317.6L53.6 321.5M49.7 321.5L53.6 317.6" class="mk"/><path d="M52.7 316L56.6 319.9M52.7 319.9L56.6 316" class="mk"/><path d="M55.8 315.3L59.7 319.2M55.8 319.2L59.7 315.3" class="mk"/><path d="M58.9 314.7L62.8 318.6M58.9 318.6L62.8 314.7" class="mk"/><path d="M62.4 314.2L66.3 318.1M62.4 318.1L66.3 314.2" class="mk"/><path d="M65.9 313.3L69.8 317.2M65.9 317.2L69.8 313.3" class="mk"/><path d="M67.9 311.9L71.8 315.8M67.9 315.8L71.8 311.9" class="mk"/><path d="M71.6 309.7L75.5 313.6M71.6 313.6L75.5 309.7" class="mk"/><path d="M77.4 308.1L81.3 312M77.4 312L81.3 308.1" class="mk"/><path d="M81 307.7L84.9 311.6M81 311.6L84.9 307.7" class="mk"/><path d="M83.6 307.7L87.5 311.6M83.6 311.6L87.5 307.7" class="mk"/><path d="M91.2 305.8L95.1 309.7M91.2 309.7L95.1 305.8" class="mk"/><path d="M100.6 305.3L104.5 309.2M100.6 309.2L104.5 305.3" class="mk"/><path d="M112.8 304.3L116.7 308.2M112.8 308.2L116.7 304.3" class="mk"/><path d="M137.4 304L141.3 307.9M137.4 307.9L141.3 304" class="mk"/><path d="M152.1 301.2L156 305.1M152.1 305.1L156 301.2" class="mk"/><path d="M160.5 299.2L164.4 303.1M160.5 303.1L164.4 299.2" class="mk"/><path d="M163.4 281.6L167.3 285.5M163.4 285.5L167.3 281.6" class="mk"/><path d="M168.4 275.5L172.3 279.4M168.4 279.4L172.3 275.5" class="mk"/><path d="M173.6 269.5L177.5 273.4M173.6 273.4L177.5 269.5" class="mk"/><path d="M177 257.8L180.9 261.7M177 261.7L180.9 257.8" class="mk"/><path d="M182.6 251L186.5 254.9M182.6 254.9L186.5 251" class="mk"/><path d="M194.9 250L198.8 253.9M194.9 253.9L198.8 250" class="mk"/><path d="M197.7 249.6L201.6 253.5M197.7 253.5L201.6 249.6" class="mk"/><path d="M201.2 245.8L205.1 249.7M201.2 249.7L205.1 245.8" class="mk"/><path d="M207.4 237.7L211.3 241.6M207.4 241.6L211.3 237.7" class="mk"/><path d="M211.9 231.7L215.8 235.6M211.9 235.6L215.8 231.7" class="mk"/><path d="M219.8 229.7L223.7 233.6M219.8 233.6L223.7 229.7" class="mk"/><path d="M226.1 228.9L230 232.8M226.1 232.8L230 228.9" class="mk"/><path d="M235 228.3L238.9 232.2M235 232.2L238.9 228.3" class="mk"/><path d="M237.9 225.1L241.8 229M237.9 229L241.8 225.1" class="mk"/><path d="M248.8 223.1L252.6 227M248.8 227L252.6 223.1" class="mk"/><path d="M256.7 222.2L260.6 226.1M256.7 226.1L260.6 222.2" class="mk"/><path d="M292.2 221.4L296.1 225.3M292.2 225.3L296.1 221.4" class="mk"/><path d="M297.2 216.2L301.1 220.1M297.2 220.1L301.1 216.2" class="mk"/><path d="M316.6 206.7L320.5 210.6M316.6 210.6L320.5 206.7" class="mk"/></g>
<polyline class="ln" points="44.9,303.6 49.2,296.9 51.7,289.5 54.6,282.8 57.7,274.9 60.8,272.8 64.4,272.1 67.8,267.8 69.8,263.1 73.5,257 79.3,254.1 82.9,253.2 85.5,252.8 93.1,251.3 102.5,250.8 114.8,248.6 139.4,248.4 154.1,245.3 162.4,244.1 165.4,239.8 170.4,236.9 175.6,235.2 178.9,232.6 184.5,228.8 196.9,228.8 199.6,228.5 203.2,228 209.3,222.2 213.9,219.4 221.7,219 228,218.7 236.9,218.3 239.9,216.6 250.7,215.6 258.7,215 294.2,214.4 299.2,211.6 318.6,206.3"/>
<g><rect x="43.6" y="302.3" width="2.5" height="2.5" class="os"/><rect x="47.9" y="295.7" width="2.5" height="2.5" class="os"/><rect x="50.4" y="288.2" width="2.5" height="2.5" class="os"/><rect x="53.4" y="281.6" width="2.5" height="2.5" class="os"/><rect x="56.5" y="273.7" width="2.5" height="2.5" class="os"/><rect x="59.6" y="271.6" width="2.5" height="2.5" class="os"/><rect x="63.1" y="270.9" width="2.5" height="2.5" class="os"/><rect x="66.6" y="266.5" width="2.5" height="2.5" class="os"/><rect x="68.6" y="261.8" width="2.5" height="2.5" class="os"/><rect x="72.3" y="255.8" width="2.5" height="2.5" class="os"/><rect x="78.1" y="252.8" width="2.5" height="2.5" class="os"/><rect x="81.7" y="252" width="2.5" height="2.5" class="os"/><rect x="84.3" y="251.6" width="2.5" height="2.5" class="os"/><rect x="91.9" y="250" width="2.5" height="2.5" class="os"/><rect x="101.3" y="249.6" width="2.5" height="2.5" class="os"/><rect x="113.5" y="247.3" width="2.5" height="2.5" class="os"/><rect x="138.1" y="247.2" width="2.5" height="2.5" class="os"/><rect x="152.8" y="244.1" width="2.5" height="2.5" class="os"/><rect x="161.2" y="242.8" width="2.5" height="2.5" class="os"/><rect x="164.1" y="238.6" width="2.5" height="2.5" class="os"/><rect x="169.1" y="235.6" width="2.5" height="2.5" class="os"/><rect x="174.3" y="233.9" width="2.5" height="2.5" class="os"/><rect x="177.7" y="231.4" width="2.5" height="2.5" class="os"/><rect x="183.3" y="227.6" width="2.5" height="2.5" class="os"/><rect x="195.6" y="227.6" width="2.5" height="2.5" class="os"/><rect x="198.4" y="227.3" width="2.5" height="2.5" class="os"/><rect x="201.9" y="226.7" width="2.5" height="2.5" class="os"/><rect x="208.1" y="221" width="2.5" height="2.5" class="os"/><rect x="212.6" y="218.1" width="2.5" height="2.5" class="os"/><rect x="220.5" y="217.7" width="2.5" height="2.5" class="os"/><rect x="226.8" y="217.4" width="2.5" height="2.5" class="os"/><rect x="235.7" y="217" width="2.5" height="2.5" class="os"/><rect x="238.6" y="215.3" width="2.5" height="2.5" class="os"/><rect x="249.4" y="214.3" width="2.5" height="2.5" class="os"/><rect x="257.4" y="213.8" width="2.5" height="2.5" class="os"/><rect x="292.9" y="213.2" width="2.5" height="2.5" class="os"/><rect x="297.9" y="210.4" width="2.5" height="2.5" class="os"/><rect x="317.3" y="205" width="2.5" height="2.5" class="os"/></g>
<polyline class="ln" points="44.9,306 49.2,294.1 51.7,283.8 54.6,274.4 57.7,266.9 60.8,262.7 64.4,257.5 67.8,253.2 69.8,247.2 73.5,242 79.3,238.3 82.9,237.3 85.5,237.2 93.1,236.2 102.5,235.7 114.8,233.9 139.4,233.9 154.1,231.7 162.4,230.4 165.4,225.6 170.4,222.2 175.6,219.8 178.9,214.7 184.5,211.4 196.9,210.9 199.6,210.5 203.2,209.5 209.3,204.9 213.9,203 221.7,202.1 228,201.5 236.9,201.1 239.9,199.5 250.7,198.2 258.7,197.8 294.2,197.1 299.2,194 318.6,188.5"/>
<g><rect x="43.2" y="304.3" width="3.4" height="3.4" class="fs"/><rect x="47.5" y="292.4" width="3.4" height="3.4" class="fs"/><rect x="50" y="282.1" width="3.4" height="3.4" class="fs"/><rect x="52.9" y="272.7" width="3.4" height="3.4" class="fs"/><rect x="56" y="265.2" width="3.4" height="3.4" class="fs"/><rect x="59.1" y="261" width="3.4" height="3.4" class="fs"/><rect x="62.7" y="255.8" width="3.4" height="3.4" class="fs"/><rect x="66.1" y="251.5" width="3.4" height="3.4" class="fs"/><rect x="68.1" y="245.5" width="3.4" height="3.4" class="fs"/><rect x="71.8" y="240.3" width="3.4" height="3.4" class="fs"/><rect x="77.6" y="236.6" width="3.4" height="3.4" class="fs"/><rect x="81.2" y="235.6" width="3.4" height="3.4" class="fs"/><rect x="83.8" y="235.5" width="3.4" height="3.4" class="fs"/><rect x="91.4" y="234.5" width="3.4" height="3.4" class="fs"/><rect x="100.8" y="234" width="3.4" height="3.4" class="fs"/><rect x="113.1" y="232.2" width="3.4" height="3.4" class="fs"/><rect x="137.7" y="232.2" width="3.4" height="3.4" class="fs"/><rect x="152.4" y="230" width="3.4" height="3.4" class="fs"/><rect x="160.7" y="228.7" width="3.4" height="3.4" class="fs"/><rect x="163.7" y="223.9" width="3.4" height="3.4" class="fs"/><rect x="168.7" y="220.5" width="3.4" height="3.4" class="fs"/><rect x="173.9" y="218.1" width="3.4" height="3.4" class="fs"/><rect x="177.2" y="213" width="3.4" height="3.4" class="fs"/><rect x="182.8" y="209.7" width="3.4" height="3.4" class="fs"/><rect x="195.2" y="209.2" width="3.4" height="3.4" class="fs"/><rect x="197.9" y="208.8" width="3.4" height="3.4" class="fs"/><rect x="201.5" y="207.8" width="3.4" height="3.4" class="fs"/><rect x="207.6" y="203.2" width="3.4" height="3.4" class="fs"/><rect x="212.2" y="201.3" width="3.4" height="3.4" class="fs"/><rect x="220" y="200.4" width="3.4" height="3.4" class="fs"/><rect x="226.3" y="199.8" width="3.4" height="3.4" class="fs"/><rect x="235.2" y="199.4" width="3.4" height="3.4" class="fs"/><rect x="238.2" y="197.8" width="3.4" height="3.4" class="fs"/><rect x="249" y="196.5" width="3.4" height="3.4" class="fs"/><rect x="257" y="196.1" width="3.4" height="3.4" class="fs"/><rect x="292.5" y="195.4" width="3.4" height="3.4" class="fs"/><rect x="297.5" y="192.3" width="3.4" height="3.4" class="fs"/><rect x="316.9" y="186.8" width="3.4" height="3.4" class="fs"/></g>
<polyline class="ln" points="44.9,320.5 49.2,316.7 51.7,310.1 54.6,285.7 57.7,283.8 60.8,282.4 64.4,281.6 67.8,278.5 69.8,275.4 73.5,272.1 79.3,269.2 82.9,268.7 85.5,268.2 93.1,266.9 102.5,266.5 114.8,264.9 139.4,264.9 154.1,260.4 162.4,257.6 165.4,246.9 170.4,241.1 175.6,238.3 178.9,231.7 184.5,229.8 196.9,229.4 199.6,229.1 203.2,228.5 209.3,221.6 213.9,219 221.7,218.8 228,218.5 236.9,217.6 239.9,215.6 250.7,214.7 258.7,214.3 294.2,213.9 299.2,211.1 318.6,206"/>
<g><path d="M44.9 318.7L46.5 321.9L43.3 321.9Z" class="os"/><path d="M49.2 314.9L50.8 318.1L47.6 318.1Z" class="os"/><path d="M51.7 308.3L53.3 311.5L50.1 311.5Z" class="os"/><path d="M54.6 283.9L56.2 287.1L53 287.1Z" class="os"/><path d="M57.7 282L59.3 285.2L56.1 285.2Z" class="os"/><path d="M60.8 280.6L62.4 283.8L59.2 283.8Z" class="os"/><path d="M64.4 279.8L66 283L62.8 283Z" class="os"/><path d="M67.8 276.7L69.4 279.9L66.2 279.9Z" class="os"/><path d="M69.8 273.6L71.4 276.8L68.2 276.8Z" class="os"/><path d="M73.5 270.3L75.1 273.5L71.9 273.5Z" class="os"/><path d="M79.3 267.4L80.9 270.6L77.7 270.6Z" class="os"/><path d="M82.9 266.9L84.5 270.1L81.3 270.1Z" class="os"/><path d="M85.5 266.4L87.1 269.6L83.9 269.6Z" class="os"/><path d="M93.1 265.1L94.7 268.3L91.5 268.3Z" class="os"/><path d="M102.5 264.7L104.1 267.9L100.9 267.9Z" class="os"/><path d="M114.8 263.1L116.4 266.3L113.2 266.3Z" class="os"/><path d="M139.4 263.1L141 266.3L137.8 266.3Z" class="os"/><path d="M154.1 258.6L155.7 261.8L152.5 261.8Z" class="os"/><path d="M162.4 255.8L164 259L160.8 259Z" class="os"/><path d="M165.4 245.1L167 248.3L163.8 248.3Z" class="os"/><path d="M170.4 239.3L172 242.5L168.8 242.5Z" class="os"/><path d="M175.6 236.5L177.2 239.7L174 239.7Z" class="os"/><path d="M178.9 229.9L180.5 233.1L177.3 233.1Z" class="os"/><path d="M184.5 228L186.1 231.2L182.9 231.2Z" class="os"/><path d="M196.9 227.6L198.5 230.8L195.3 230.8Z" class="os"/><path d="M199.6 227.3L201.2 230.5L198 230.5Z" class="os"/><path d="M203.2 226.7L204.8 229.9L201.6 229.9Z" class="os"/><path d="M209.3 219.8L210.9 223L207.7 223Z" class="os"/><path d="M213.9 217.2L215.5 220.4L212.3 220.4Z" class="os"/><path d="M221.7 217L223.3 220.2L220.1 220.2Z" class="os"/><path d="M228 216.7L229.6 219.9L226.4 219.9Z" class="os"/><path d="M236.9 215.8L238.5 219L235.3 219Z" class="os"/><path d="M239.9 213.8L241.5 217L238.3 217Z" class="os"/><path d="M250.7 212.9L252.3 216.1L249.1 216.1Z" class="os"/><path d="M258.7 212.5L260.3 215.7L257.1 215.7Z" class="os"/><path d="M294.2 212.1L295.8 215.3L292.6 215.3Z" class="os"/><path d="M299.2 209.3L300.8 212.5L297.6 212.5Z" class="os"/><path d="M318.6 204.2L320.2 207.4L317 207.4Z" class="os"/></g>
<polyline class="ln" points="44.9,321.2 49.2,314.9 51.7,300.8 54.6,281 57.7,277.2 60.8,275.4 64.4,274 67.8,271.6 69.8,267.8 73.5,264.1 79.3,260.8 82.9,259.7 85.5,259 93.1,257.9 102.5,257 114.8,255.6 139.4,255.2 154.1,251.8 162.4,249.7 165.4,237.4 170.4,231.7 175.6,229.3 178.9,222.2 184.5,216.6 196.9,216.6 199.6,216.1 203.2,214.7 209.3,209.1 213.9,203.3 221.7,202.1 228,201.6 236.9,201.5 239.9,199.9 250.7,198.2 258.7,197.8 294.2,197.1 299.2,194 318.6,187"/>
<g><path d="M44.9 318.9L47 323L42.8 323Z" class="fs"/><path d="M49.2 312.6L51.3 316.7L47.1 316.7Z" class="fs"/><path d="M51.7 298.5L53.8 302.6L49.6 302.6Z" class="fs"/><path d="M54.6 278.7L56.7 282.8L52.5 282.8Z" class="fs"/><path d="M57.7 274.9L59.8 279L55.6 279Z" class="fs"/><path d="M60.8 273.1L62.9 277.2L58.7 277.2Z" class="fs"/><path d="M64.4 271.7L66.5 275.8L62.3 275.8Z" class="fs"/><path d="M67.8 269.3L69.9 273.4L65.7 273.4Z" class="fs"/><path d="M69.8 265.5L71.9 269.6L67.7 269.6Z" class="fs"/><path d="M73.5 261.8L75.6 265.9L71.4 265.9Z" class="fs"/><path d="M79.3 258.5L81.4 262.6L77.2 262.6Z" class="fs"/><path d="M82.9 257.4L85 261.5L80.8 261.5Z" class="fs"/><path d="M85.5 256.7L87.6 260.8L83.4 260.8Z" class="fs"/><path d="M93.1 255.6L95.2 259.7L91 259.7Z" class="fs"/><path d="M102.5 254.7L104.6 258.8L100.4 258.8Z" class="fs"/><path d="M114.8 253.3L116.9 257.4L112.7 257.4Z" class="fs"/><path d="M139.4 252.9L141.5 257L137.3 257Z" class="fs"/><path d="M154.1 249.5L156.2 253.6L152 253.6Z" class="fs"/><path d="M162.4 247.4L164.5 251.5L160.3 251.5Z" class="fs"/><path d="M165.4 235.1L167.5 239.2L163.3 239.2Z" class="fs"/><path d="M170.4 229.4L172.5 233.5L168.3 233.5Z" class="fs"/><path d="M175.6 227L177.7 231.1L173.5 231.1Z" class="fs"/><path d="M178.9 219.9L181 224L176.8 224Z" class="fs"/><path d="M184.5 214.3L186.6 218.4L182.4 218.4Z" class="fs"/><path d="M196.9 214.3L199 218.4L194.8 218.4Z" class="fs"/><path d="M199.6 213.8L201.7 217.9L197.5 217.9Z" class="fs"/><path d="M203.2 212.4L205.3 216.5L201.1 216.5Z" class="fs"/><path d="M209.3 206.8L211.4 210.9L207.2 210.9Z" class="fs"/><path d="M213.9 201L216 205.1L211.8 205.1Z" class="fs"/><path d="M221.7 199.8L223.8 203.9L219.6 203.9Z" class="fs"/><path d="M228 199.3L230.1 203.4L225.9 203.4Z" class="fs"/><path d="M236.9 199.2L239 203.3L234.8 203.3Z" class="fs"/><path d="M239.9 197.6L242 201.7L237.8 201.7Z" class="fs"/><path d="M250.7 195.9L252.8 200L248.6 200Z" class="fs"/><path d="M258.7 195.5L260.8 199.6L256.6 199.6Z" class="fs"/><path d="M294.2 194.8L296.3 198.9L292.1 198.9Z" class="fs"/><path d="M299.2 191.7L301.3 195.8L297.1 195.8Z" class="fs"/><path d="M318.6 184.7L320.7 188.8L316.5 188.8Z" class="fs"/></g>
<path class="ax" d="M389.4 179.9V321.1H670.8"/>
<text transform="translate(382.4 324.1) scale(1 1)" font-size="9" text-anchor="end">0</text>
<text transform="translate(382.4 300.5) scale(1 1)" font-size="9" text-anchor="end">400</text>
<text transform="translate(382.4 277) scale(1 1)" font-size="9" text-anchor="end">800</text>
<text transform="translate(382.4 253.5) scale(1 1)" font-size="9" text-anchor="end">1200</text>
<text transform="translate(382.4 229.9) scale(1 1)" font-size="9" text-anchor="end">1600</text>
<text transform="translate(382.4 206.4) scale(1 1)" font-size="9" text-anchor="end">2000</text>
<text transform="translate(382.4 182.9) scale(1 1)" font-size="9" text-anchor="end">2400</text>
<path class="tk" d="M386.4 321.1h3M386.4 297.6h3M386.4 274h3M386.4 250.5h3M386.4 227h3M386.4 203.4h3M386.4 179.9h3M389.4 321.1v3M401.1 321.1v3M412.8 321.1v3M424.6 321.1v3M436.3 321.1v3M448 321.1v3M459.8 321.1v3M471.5 321.1v3M483.2 321.1v3M494.9 321.1v3M506.6 321.1v3M518.4 321.1v3M530.1 321.1v3M541.8 321.1v3M553.5 321.1v3M565.3 321.1v3M577 321.1v3M588.7 321.1v3M600.4 321.1v3M612.2 321.1v3M623.9 321.1v3M635.6 321.1v3M647.3 321.1v3M659.1 321.1v3M670.8 321.1v3"/>
<polyline class="ln" points="397.4,321.1 401.6,320.7 404.1,320.3 407,319.6 410,319.2 413.1,319.2 416.6,318.8 420,318.2 422,316.9 425.6,315.7 431.4,315 434.9,314.8 437.5,314.6 445,314.2 454.2,314 466.3,313.5 490.6,313.5 505.1,311 513.3,310.3 516.3,305.2 521.2,302.6 526.3,301.2 529.6,295.6 535.1,293.7 547.3,293.6 550,293.4 553.5,292.6 559.6,291.2 564.1,289.7 571.8,289 578.1,288.9 586.8,288.6 589.8,287.6 600.4,287.2 608.3,286.7 643.4,286.2 648.3,284.9 667.4,282.4"/>
<g><path d="M395.4 319.2L399.3 323.1M395.4 323.1L399.3 319.2" class="mk"/><path d="M399.6 318.8L403.5 322.7M399.6 322.7L403.5 318.8" class="mk"/><path d="M402.1 318.4L406 322.3M402.1 322.3L406 318.4" class="mk"/><path d="M405 317.6L408.9 321.5M405 321.5L408.9 317.6" class="mk"/><path d="M408.1 317.3L412 321.2M408.1 321.2L412 317.3" class="mk"/><path d="M411.1 317.3L415 321.2M411.1 321.2L415 317.3" class="mk"/><path d="M414.7 316.9L418.6 320.8M414.7 320.8L418.6 316.9" class="mk"/><path d="M418.1 316.3L422 320.2M418.1 320.2L422 316.3" class="mk"/><path d="M420 315L423.9 318.9M420 318.9L423.9 315" class="mk"/><path d="M423.7 313.8L427.6 317.7M423.7 317.7L427.6 313.8" class="mk"/><path d="M429.4 313L433.3 316.9M429.4 316.9L433.3 313" class="mk"/><path d="M432.9 312.9L436.8 316.8M432.9 316.8L436.8 312.9" class="mk"/><path d="M435.5 312.7L439.4 316.6M435.5 316.6L439.4 312.7" class="mk"/><path d="M443 312.3L446.9 316.2M443 316.2L446.9 312.3" class="mk"/><path d="M452.3 312.1L456.2 316M452.3 316L456.2 312.1" class="mk"/><path d="M464.4 311.5L468.3 315.4M464.4 315.4L468.3 311.5" class="mk"/><path d="M488.6 311.5L492.5 315.4M488.6 315.4L492.5 311.5" class="mk"/><path d="M503.2 309L507.1 312.9M503.2 312.9L507.1 309" class="mk"/><path d="M511.4 308.3L515.3 312.2M511.4 312.2L515.3 308.3" class="mk"/><path d="M514.3 303.3L518.2 307.2M514.3 307.2L518.2 303.3" class="mk"/><path d="M519.2 300.7L523.1 304.6M519.2 304.6L523.1 300.7" class="mk"/><path d="M524.4 299.3L528.3 303.2M524.4 303.2L528.3 299.3" class="mk"/><path d="M527.7 293.6L531.6 297.5M527.7 297.5L531.6 293.6" class="mk"/><path d="M533.2 291.8L537.1 295.7M533.2 295.7L537.1 291.8" class="mk"/><path d="M545.4 291.6L549.3 295.5M545.4 295.5L549.3 291.6" class="mk"/><path d="M548.1 291.5L552 295.4M548.1 295.4L552 291.5" class="mk"/><path d="M551.6 290.6L555.5 294.5M551.6 294.5L555.5 290.6" class="mk"/><path d="M557.7 289.2L561.6 293.1M557.7 293.1L561.6 289.2" class="mk"/><path d="M562.2 287.8L566.1 291.7M562.2 291.7L566.1 287.8" class="mk"/><path d="M569.9 287.1L573.8 291M569.9 291L573.8 287.1" class="mk"/><path d="M576.1 286.9L580 290.8M576.1 290.8L580 286.9" class="mk"/><path d="M584.9 286.6L588.8 290.5M584.9 290.5L588.8 286.6" class="mk"/><path d="M587.8 285.7L591.7 289.6M587.8 289.6L591.7 285.7" class="mk"/><path d="M598.5 285.2L602.4 289.1M598.5 289.1L602.4 285.2" class="mk"/><path d="M606.4 284.8L610.3 288.7M606.4 288.7L610.3 284.8" class="mk"/><path d="M641.4 284.2L645.3 288.1M641.4 288.1L645.3 284.2" class="mk"/><path d="M646.3 283L650.2 286.9M646.3 286.9L650.2 283" class="mk"/><path d="M665.4 280.4L669.3 284.3M665.4 284.3L669.3 280.4" class="mk"/></g>
<polyline class="ln" points="397.4,303.9 401.6,301.1 404.1,294.4 407,289.7 410,284.5 413.1,280.7 416.6,279.2 420,276.3 422,270.6 425.6,263.9 431.4,260.1 434.9,258.2 437.5,257.6 445,255.9 454.2,255.6 466.3,252.5 490.6,252.1 505.1,246.1 513.3,244.9 516.3,231 521.2,225.8 526.3,221.8 529.6,214.7 535.1,210.9 547.3,210.9 550,210.3 553.5,208.6 559.6,203.8 564.1,201.7 571.8,201.4 578.1,201.4 586.8,200.8 589.8,199.1 600.4,198 608.3,197.2 643.4,197.5 648.3,194.3 667.4,188.1"/>
<g><rect x="396.1" y="302.7" width="2.5" height="2.5" class="os"/><rect x="400.3" y="299.8" width="2.5" height="2.5" class="os"/><rect x="402.8" y="293.2" width="2.5" height="2.5" class="os"/><rect x="405.7" y="288.4" width="2.5" height="2.5" class="os"/><rect x="408.8" y="283.3" width="2.5" height="2.5" class="os"/><rect x="411.8" y="279.4" width="2.5" height="2.5" class="os"/><rect x="415.4" y="277.9" width="2.5" height="2.5" class="os"/><rect x="418.8" y="275.1" width="2.5" height="2.5" class="os"/><rect x="420.7" y="269.4" width="2.5" height="2.5" class="os"/><rect x="424.4" y="262.7" width="2.5" height="2.5" class="os"/><rect x="430.1" y="258.9" width="2.5" height="2.5" class="os"/><rect x="433.6" y="257" width="2.5" height="2.5" class="os"/><rect x="436.2" y="256.4" width="2.5" height="2.5" class="os"/><rect x="443.7" y="254.7" width="2.5" height="2.5" class="os"/><rect x="453" y="254.3" width="2.5" height="2.5" class="os"/><rect x="465.1" y="251.3" width="2.5" height="2.5" class="os"/><rect x="489.3" y="250.9" width="2.5" height="2.5" class="os"/><rect x="503.9" y="244.8" width="2.5" height="2.5" class="os"/><rect x="512.1" y="243.6" width="2.5" height="2.5" class="os"/><rect x="515" y="229.7" width="2.5" height="2.5" class="os"/><rect x="519.9" y="224.5" width="2.5" height="2.5" class="os"/><rect x="525.1" y="220.5" width="2.5" height="2.5" class="os"/><rect x="528.4" y="213.5" width="2.5" height="2.5" class="os"/><rect x="533.9" y="209.7" width="2.5" height="2.5" class="os"/><rect x="546.1" y="209.7" width="2.5" height="2.5" class="os"/><rect x="548.8" y="209.1" width="2.5" height="2.5" class="os"/><rect x="552.3" y="207.4" width="2.5" height="2.5" class="os"/><rect x="558.4" y="202.6" width="2.5" height="2.5" class="os"/><rect x="562.9" y="200.5" width="2.5" height="2.5" class="os"/><rect x="570.6" y="200.1" width="2.5" height="2.5" class="os"/><rect x="576.8" y="200.1" width="2.5" height="2.5" class="os"/><rect x="585.6" y="199.5" width="2.5" height="2.5" class="os"/><rect x="588.5" y="197.8" width="2.5" height="2.5" class="os"/><rect x="599.2" y="196.7" width="2.5" height="2.5" class="os"/><rect x="607.1" y="195.9" width="2.5" height="2.5" class="os"/><rect x="642.1" y="196.2" width="2.5" height="2.5" class="os"/><rect x="647" y="193.1" width="2.5" height="2.5" class="os"/><rect x="666.1" y="186.9" width="2.5" height="2.5" class="os"/></g>
<polyline class="ln" points="397.4,310.2 401.6,303 404.1,298.2 407,292.5 410,287.2 413.1,284.5 416.6,282 420,277.7 422,271.6 425.6,264.9 431.4,261.7 434.9,260.1 437.5,259.1 445,257.4 454.2,257.3 466.3,254.4 490.6,254.4 505.1,247.9 513.3,246.4 516.3,230 521.2,224.6 526.3,220.4 529.6,213.2 535.1,209 547.3,209.3 550,208.6 553.5,207.1 559.6,202.3 564.1,199.4 571.8,198.9 578.1,198.5 586.8,197.6 589.8,196 600.4,194.1 608.3,193 643.4,193.9 648.3,191.8 667.4,185.2"/>
<g><rect x="395.7" y="308.5" width="3.4" height="3.4" class="fs"/><rect x="399.9" y="301.3" width="3.4" height="3.4" class="fs"/><rect x="402.4" y="296.5" width="3.4" height="3.4" class="fs"/><rect x="405.3" y="290.8" width="3.4" height="3.4" class="fs"/><rect x="408.3" y="285.5" width="3.4" height="3.4" class="fs"/><rect x="411.4" y="282.8" width="3.4" height="3.4" class="fs"/><rect x="414.9" y="280.3" width="3.4" height="3.4" class="fs"/><rect x="418.3" y="276" width="3.4" height="3.4" class="fs"/><rect x="420.3" y="269.9" width="3.4" height="3.4" class="fs"/><rect x="423.9" y="263.2" width="3.4" height="3.4" class="fs"/><rect x="429.7" y="260" width="3.4" height="3.4" class="fs"/><rect x="433.2" y="258.4" width="3.4" height="3.4" class="fs"/><rect x="435.8" y="257.4" width="3.4" height="3.4" class="fs"/><rect x="443.3" y="255.7" width="3.4" height="3.4" class="fs"/><rect x="452.5" y="255.6" width="3.4" height="3.4" class="fs"/><rect x="464.6" y="252.7" width="3.4" height="3.4" class="fs"/><rect x="488.9" y="252.7" width="3.4" height="3.4" class="fs"/><rect x="503.4" y="246.2" width="3.4" height="3.4" class="fs"/><rect x="511.6" y="244.7" width="3.4" height="3.4" class="fs"/><rect x="514.6" y="228.3" width="3.4" height="3.4" class="fs"/><rect x="519.5" y="222.9" width="3.4" height="3.4" class="fs"/><rect x="524.6" y="218.7" width="3.4" height="3.4" class="fs"/><rect x="527.9" y="211.5" width="3.4" height="3.4" class="fs"/><rect x="533.4" y="207.3" width="3.4" height="3.4" class="fs"/><rect x="545.6" y="207.6" width="3.4" height="3.4" class="fs"/><rect x="548.3" y="206.9" width="3.4" height="3.4" class="fs"/><rect x="551.9" y="205.4" width="3.4" height="3.4" class="fs"/><rect x="557.9" y="200.6" width="3.4" height="3.4" class="fs"/><rect x="562.4" y="197.7" width="3.4" height="3.4" class="fs"/><rect x="570.1" y="197.2" width="3.4" height="3.4" class="fs"/><rect x="576.4" y="196.8" width="3.4" height="3.4" class="fs"/><rect x="585.1" y="195.8" width="3.4" height="3.4" class="fs"/><rect x="588.1" y="194.3" width="3.4" height="3.4" class="fs"/><rect x="598.8" y="192.4" width="3.4" height="3.4" class="fs"/><rect x="606.6" y="191.3" width="3.4" height="3.4" class="fs"/><rect x="641.7" y="192.2" width="3.4" height="3.4" class="fs"/><rect x="646.6" y="190.1" width="3.4" height="3.4" class="fs"/><rect x="665.7" y="183.5" width="3.4" height="3.4" class="fs"/></g>
<polyline class="ln" points="397.4,320.8 401.6,317.9 404.1,315.2 407,308.5 410,307.3 413.1,306.4 416.6,305.9 420,305.2 422,303 425.6,299.7 431.4,297 434.9,295.8 437.5,295.2 445,294 454.2,293.2 466.3,291.2 490.6,290.5 505.1,284.7 513.3,283.2 516.3,273.4 521.2,269.1 526.3,266.6 529.6,263.4 535.1,261.4 547.3,261.4 550,261.1 553.5,260.5 559.6,255.7 564.1,253.3 571.8,253.3 578.1,252.9 586.8,251.9 589.8,250.6 600.4,249.4 608.3,248.7 643.4,248.8 648.3,246.1 667.4,241.3"/>
<g><path d="M397.4 319L399 322.2L395.8 322.2Z" class="os"/><path d="M401.6 316.1L403.2 319.3L400 319.3Z" class="os"/><path d="M404.1 313.4L405.7 316.6L402.5 316.6Z" class="os"/><path d="M407 306.7L408.6 309.9L405.4 309.9Z" class="os"/><path d="M410 305.5L411.6 308.7L408.4 308.7Z" class="os"/><path d="M413.1 304.6L414.7 307.8L411.5 307.8Z" class="os"/><path d="M416.6 304.1L418.2 307.3L415 307.3Z" class="os"/><path d="M420 303.4L421.6 306.6L418.4 306.6Z" class="os"/><path d="M422 301.2L423.6 304.4L420.4 304.4Z" class="os"/><path d="M425.6 297.9L427.2 301.1L424 301.1Z" class="os"/><path d="M431.4 295.2L433 298.4L429.8 298.4Z" class="os"/><path d="M434.9 294L436.5 297.2L433.3 297.2Z" class="os"/><path d="M437.5 293.4L439.1 296.6L435.9 296.6Z" class="os"/><path d="M445 292.2L446.6 295.4L443.4 295.4Z" class="os"/><path d="M454.2 291.4L455.8 294.6L452.6 294.6Z" class="os"/><path d="M466.3 289.4L467.9 292.6L464.7 292.6Z" class="os"/><path d="M490.6 288.7L492.2 291.9L489 291.9Z" class="os"/><path d="M505.1 282.9L506.7 286.1L503.5 286.1Z" class="os"/><path d="M513.3 281.4L514.9 284.6L511.7 284.6Z" class="os"/><path d="M516.3 271.6L517.9 274.8L514.7 274.8Z" class="os"/><path d="M521.2 267.3L522.8 270.5L519.6 270.5Z" class="os"/><path d="M526.3 264.8L527.9 268L524.7 268Z" class="os"/><path d="M529.6 261.6L531.2 264.8L528 264.8Z" class="os"/><path d="M535.1 259.6L536.7 262.8L533.5 262.8Z" class="os"/><path d="M547.3 259.6L548.9 262.8L545.7 262.8Z" class="os"/><path d="M550 259.3L551.6 262.5L548.4 262.5Z" class="os"/><path d="M553.5 258.7L555.1 261.9L551.9 261.9Z" class="os"/><path d="M559.6 253.9L561.2 257.1L558 257.1Z" class="os"/><path d="M564.1 251.5L565.7 254.7L562.5 254.7Z" class="os"/><path d="M571.8 251.5L573.4 254.7L570.2 254.7Z" class="os"/><path d="M578.1 251.1L579.7 254.3L576.5 254.3Z" class="os"/><path d="M586.8 250.1L588.4 253.3L585.2 253.3Z" class="os"/><path d="M589.8 248.8L591.4 252L588.2 252Z" class="os"/><path d="M600.4 247.6L602 250.8L598.8 250.8Z" class="os"/><path d="M608.3 246.9L609.9 250.1L606.7 250.1Z" class="os"/><path d="M643.4 247L645 250.2L641.8 250.2Z" class="os"/><path d="M648.3 244.3L649.9 247.5L646.7 247.5Z" class="os"/><path d="M667.4 239.5L669 242.7L665.8 242.7Z" class="os"/></g>
<polyline class="ln" points="397.4,320.7 401.6,317.3 404.1,314.5 407,307.7 410,306.5 413.1,305.5 416.6,304.9 420,303.6 422,301.1 425.6,298.6 431.4,296.3 434.9,295.4 437.5,294.8 445,293.7 454.2,292.9 466.3,291 490.6,290.2 505.1,284.5 513.3,283 516.3,271.9 521.2,267.6 526.3,265.3 529.6,260.5 535.1,256.7 547.3,256.7 550,256.3 553.5,255.1 559.6,251.9 564.1,249 571.8,248.4 578.1,247.7 586.8,246.6 589.8,244.9 600.4,243.3 608.3,242.7 643.4,243 648.3,240.6 667.4,235.6"/>
<g><path d="M397.4 318.4L399.5 322.5L395.3 322.5Z" class="fs"/><path d="M401.6 315L403.7 319.1L399.5 319.1Z" class="fs"/><path d="M404.1 312.2L406.2 316.3L402 316.3Z" class="fs"/><path d="M407 305.4L409.1 309.5L404.9 309.5Z" class="fs"/><path d="M410 304.2L412.1 308.3L407.9 308.3Z" class="fs"/><path d="M413.1 303.2L415.2 307.3L411 307.3Z" class="fs"/><path d="M416.6 302.6L418.7 306.7L414.5 306.7Z" class="fs"/><path d="M420 301.3L422.1 305.4L417.9 305.4Z" class="fs"/><path d="M422 298.8L424.1 302.9L419.9 302.9Z" class="fs"/><path d="M425.6 296.3L427.7 300.4L423.5 300.4Z" class="fs"/><path d="M431.4 294L433.5 298.1L429.3 298.1Z" class="fs"/><path d="M434.9 293.1L437 297.2L432.8 297.2Z" class="fs"/><path d="M437.5 292.5L439.6 296.6L435.4 296.6Z" class="fs"/><path d="M445 291.4L447.1 295.5L442.9 295.5Z" class="fs"/><path d="M454.2 290.6L456.3 294.7L452.1 294.7Z" class="fs"/><path d="M466.3 288.7L468.4 292.8L464.2 292.8Z" class="fs"/><path d="M490.6 287.9L492.7 292L488.5 292Z" class="fs"/><path d="M505.1 282.2L507.2 286.3L503 286.3Z" class="fs"/><path d="M513.3 280.7L515.4 284.8L511.2 284.8Z" class="fs"/><path d="M516.3 269.6L518.4 273.7L514.2 273.7Z" class="fs"/><path d="M521.2 265.3L523.3 269.4L519.1 269.4Z" class="fs"/><path d="M526.3 263L528.4 267.1L524.2 267.1Z" class="fs"/><path d="M529.6 258.2L531.7 262.3L527.5 262.3Z" class="fs"/><path d="M535.1 254.4L537.2 258.5L533 258.5Z" class="fs"/><path d="M547.3 254.4L549.4 258.5L545.2 258.5Z" class="fs"/><path d="M550 254L552.1 258.1L547.9 258.1Z" class="fs"/><path d="M553.5 252.8L555.6 256.9L551.4 256.9Z" class="fs"/><path d="M559.6 249.6L561.7 253.7L557.5 253.7Z" class="fs"/><path d="M564.1 246.7L566.2 250.8L562 250.8Z" class="fs"/><path d="M571.8 246.1L573.9 250.2L569.7 250.2Z" class="fs"/><path d="M578.1 245.4L580.2 249.5L576 249.5Z" class="fs"/><path d="M586.8 244.3L588.9 248.4L584.7 248.4Z" class="fs"/><path d="M589.8 242.6L591.9 246.7L587.7 246.7Z" class="fs"/><path d="M600.4 241L602.5 245.1L598.3 245.1Z" class="fs"/><path d="M608.3 240.4L610.4 244.5L606.2 244.5Z" class="fs"/><path d="M643.4 240.7L645.5 244.8L641.3 244.8Z" class="fs"/><path d="M648.3 238.3L650.4 242.4L646.2 242.4Z" class="fs"/><path d="M667.4 233.3L669.5 237.4L665.3 237.4Z" class="fs"/></g>
<path class="ax" d="M34.9 349.4V488H322.2"/>
<text transform="translate(28.4 491.2) scale(1 1)" font-size="9.6" text-anchor="end">0</text>
<text transform="translate(28.4 463.4) scale(1 1)" font-size="9.6" text-anchor="end">50</text>
<text transform="translate(28.4 435.7) scale(1 1)" font-size="9.6" text-anchor="end">100</text>
<text transform="translate(28.4 408) scale(1 1)" font-size="9.6" text-anchor="end">150</text>
<text transform="translate(28.4 380.3) scale(1 1)" font-size="9.6" text-anchor="end">200</text>
<text transform="translate(28.4 352.6) scale(1 1)" font-size="9.6" text-anchor="end">250</text>
<path class="tk" d="M31.9 488h3M31.9 460.3h3M31.9 432.6h3M31.9 404.8h3M31.9 377.1h3M31.9 349.4h3M34.9 488v3M46.9 488v3M58.8 488v3M70.8 488v3M82.8 488v3M94.8 488v3M106.7 488v3M118.7 488v3M130.7 488v3M142.6 488v3M154.6 488v3M166.6 488v3M178.6 488v3M190.5 488v3M202.5 488v3M214.5 488v3M226.4 488v3M238.4 488v3M250.4 488v3M262.3 488v3M274.3 488v3M286.3 488v3M298.3 488v3M310.2 488v3M322.2 488v3"/>
<polyline class="ln" points="43,487.4 47.3,486.9 49.9,486.3 52.9,485.2 56,484.7 59.1,484.1 62.7,483 66.1,482.5 68.2,479.7 71.9,474.7 77.8,472.5 81.3,470.8 84,470.3 91.6,468 101.1,466.4 113.4,464.2 138.2,464.2 153.1,459.7 161.4,455.8 164.4,443.6 169.5,439.8 174.7,436.4 178.1,425.4 183.7,422 196.1,420.9 198.9,420.4 202.5,419.8 208.7,418.7 213.3,418.1 221.2,417 227.5,416.5 236.5,415.9 239.5,414.8 250.4,412.6 258.4,411.5 294.2,409.8 299.2,408.2 318.7,404.8"/>
<g><path d="M41.1 485.5L45 489.4M41.1 489.4L45 485.5" class="mk"/><path d="M45.4 484.9L49.3 488.8M45.4 488.8L49.3 484.9" class="mk"/><path d="M47.9 484.4L51.8 488.3M47.9 488.3L51.8 484.4" class="mk"/><path d="M50.9 483.3L54.8 487.2M50.9 487.2L54.8 483.3" class="mk"/><path d="M54 482.7L57.9 486.6M54 486.6L57.9 482.7" class="mk"/><path d="M57.1 482.2L61 486.1M57.1 486.1L61 482.2" class="mk"/><path d="M60.7 481.1L64.6 485M60.7 485L64.6 481.1" class="mk"/><path d="M64.2 480.5L68.1 484.4M64.2 484.4L68.1 480.5" class="mk"/><path d="M66.2 477.7L70.1 481.6M66.2 481.6L70.1 477.7" class="mk"/><path d="M69.9 472.7L73.8 476.6M69.9 476.6L73.8 472.7" class="mk"/><path d="M75.8 470.5L79.7 474.4M75.8 474.4L79.7 470.5" class="mk"/><path d="M79.4 468.9L83.3 472.8M79.4 472.8L83.3 468.9" class="mk"/><path d="M82 468.3L85.9 472.2M82 472.2L85.9 468.3" class="mk"/><path d="M89.7 466.1L93.6 470M89.7 470L93.6 466.1" class="mk"/><path d="M99.1 464.4L103 468.3M99.1 468.3L103 464.4" class="mk"/><path d="M111.5 462.2L115.4 466.1M111.5 466.1L115.4 462.2" class="mk"/><path d="M136.3 462.2L140.2 466.1M136.3 466.1L140.2 462.2" class="mk"/><path d="M151.1 457.8L155 461.7M151.1 461.7L155 457.8" class="mk"/><path d="M159.5 453.9L163.4 457.8M159.5 457.8L163.4 453.9" class="mk"/><path d="M162.5 441.7L166.4 445.6M162.5 445.6L166.4 441.7" class="mk"/><path d="M167.5 437.8L171.4 441.7M167.5 441.7L171.4 437.8" class="mk"/><path d="M172.8 434.5L176.7 438.4M172.8 438.4L176.7 434.5" class="mk"/><path d="M176.1 423.4L180 427.3M176.1 427.3L180 423.4" class="mk"/><path d="M181.7 420.1L185.6 424M181.7 424L185.6 420.1" class="mk"/><path d="M194.2 419L198.1 422.9M194.2 422.9L198.1 419" class="mk"/><path d="M197 418.4L200.9 422.3M197 422.3L200.9 418.4" class="mk"/><path d="M200.5 417.9L204.4 421.8M200.5 421.8L204.4 417.9" class="mk"/><path d="M206.8 416.8L210.7 420.6M206.8 420.6L210.7 416.8" class="mk"/><path d="M211.3 416.2L215.2 420.1M211.3 420.1L215.2 416.2" class="mk"/><path d="M219.2 415.1L223.1 419M219.2 419L223.1 415.1" class="mk"/><path d="M225.6 414.5L229.5 418.4M225.6 418.4L229.5 414.5" class="mk"/><path d="M234.5 414L238.4 417.9M234.5 417.9L238.4 414" class="mk"/><path d="M237.5 412.9L241.4 416.8M237.5 416.8L241.4 412.9" class="mk"/><path d="M248.4 410.7L252.3 414.6M248.4 414.6L252.3 410.7" class="mk"/><path d="M256.4 409.5L260.3 413.4M256.4 413.4L260.3 409.5" class="mk"/><path d="M292.2 407.9L296.1 411.8M292.2 411.8L296.1 407.9" class="mk"/><path d="M297.3 406.2L301.2 410.1M297.3 410.1L301.2 406.2" class="mk"/><path d="M316.8 402.9L320.7 406.8M316.8 406.8L320.7 402.9" class="mk"/></g>
<polyline class="ln" points="43,487.4 47.3,484.1 49.9,482.5 52.9,479.7 56,478.6 59.1,477.5 62.7,476.9 66.1,475.8 68.2,468 71.9,461.4 77.8,458.6 81.3,455.3 84,454.2 91.6,450.9 101.1,449.2 113.4,445.3 138.2,445.3 153.1,438.1 161.4,434.8 164.4,418.1 169.5,411.5 174.7,407.6 178.1,402.6 183.7,399.3 196.1,398.7 198.9,398.2 202.5,397.6 208.7,396.5 213.3,396 221.2,396 227.5,395.4 236.5,394.9 239.5,393.8 250.4,391.5 258.4,390.4 294.2,388.8 299.2,386.5 318.7,381.6"/>
<g><rect x="41.8" y="486.2" width="2.5" height="2.5" class="os"/><rect x="46.1" y="482.9" width="2.5" height="2.5" class="os"/><rect x="48.6" y="481.2" width="2.5" height="2.5" class="os"/><rect x="51.6" y="478.4" width="2.5" height="2.5" class="os"/><rect x="54.7" y="477.3" width="2.5" height="2.5" class="os"/><rect x="57.8" y="476.2" width="2.5" height="2.5" class="os"/><rect x="61.4" y="475.7" width="2.5" height="2.5" class="os"/><rect x="64.9" y="474.6" width="2.5" height="2.5" class="os"/><rect x="66.9" y="466.8" width="2.5" height="2.5" class="os"/><rect x="70.6" y="460.1" width="2.5" height="2.5" class="os"/><rect x="76.5" y="457.4" width="2.5" height="2.5" class="os"/><rect x="80.1" y="454" width="2.5" height="2.5" class="os"/><rect x="82.7" y="452.9" width="2.5" height="2.5" class="os"/><rect x="90.4" y="449.6" width="2.5" height="2.5" class="os"/><rect x="99.8" y="447.9" width="2.5" height="2.5" class="os"/><rect x="112.2" y="444.1" width="2.5" height="2.5" class="os"/><rect x="137" y="444.1" width="2.5" height="2.5" class="os"/><rect x="151.8" y="436.9" width="2.5" height="2.5" class="os"/><rect x="160.2" y="433.5" width="2.5" height="2.5" class="os"/><rect x="163.2" y="416.9" width="2.5" height="2.5" class="os"/><rect x="168.2" y="410.2" width="2.5" height="2.5" class="os"/><rect x="173.5" y="406.4" width="2.5" height="2.5" class="os"/><rect x="176.8" y="401.4" width="2.5" height="2.5" class="os"/><rect x="182.4" y="398" width="2.5" height="2.5" class="os"/><rect x="194.9" y="397.5" width="2.5" height="2.5" class="os"/><rect x="197.7" y="396.9" width="2.5" height="2.5" class="os"/><rect x="201.2" y="396.4" width="2.5" height="2.5" class="os"/><rect x="207.5" y="395.3" width="2.5" height="2.5" class="os"/><rect x="212" y="394.7" width="2.5" height="2.5" class="os"/><rect x="219.9" y="394.7" width="2.5" height="2.5" class="os"/><rect x="226.3" y="394.2" width="2.5" height="2.5" class="os"/><rect x="235.2" y="393.6" width="2.5" height="2.5" class="os"/><rect x="238.2" y="392.5" width="2.5" height="2.5" class="os"/><rect x="249.1" y="390.3" width="2.5" height="2.5" class="os"/><rect x="257.1" y="389.2" width="2.5" height="2.5" class="os"/><rect x="292.9" y="387.5" width="2.5" height="2.5" class="os"/><rect x="298" y="385.3" width="2.5" height="2.5" class="os"/><rect x="317.5" y="380.3" width="2.5" height="2.5" class="os"/></g>
<polyline class="ln" points="43,480.2 47.3,475.8 49.9,470.8 52.9,465.3 56,461.4 59.1,457.5 62.7,454.7 66.1,449.2 68.2,444.8 71.9,433.1 77.8,426.5 81.3,425.4 84,424.8 91.6,420.9 101.1,419.8 113.4,417 138.2,417 153.1,410.9 161.4,405.4 164.4,387.7 169.5,381 174.7,377.7 178.1,374.3 183.7,371.6 196.1,371 198.9,370.5 202.5,369.9 208.7,368.8 213.3,367.7 221.2,367.1 227.5,366 236.5,364.9 239.5,363.3 250.4,361 258.4,359.4 294.2,358.3 299.2,356.6 318.7,354.9"/>
<g><rect x="41.3" y="478.5" width="3.4" height="3.4" class="fs"/><rect x="45.6" y="474.1" width="3.4" height="3.4" class="fs"/><rect x="48.2" y="469.1" width="3.4" height="3.4" class="fs"/><rect x="51.2" y="463.6" width="3.4" height="3.4" class="fs"/><rect x="54.3" y="459.7" width="3.4" height="3.4" class="fs"/><rect x="57.4" y="455.8" width="3.4" height="3.4" class="fs"/><rect x="61" y="453" width="3.4" height="3.4" class="fs"/><rect x="64.4" y="447.5" width="3.4" height="3.4" class="fs"/><rect x="66.5" y="443.1" width="3.4" height="3.4" class="fs"/><rect x="70.2" y="431.4" width="3.4" height="3.4" class="fs"/><rect x="76.1" y="424.8" width="3.4" height="3.4" class="fs"/><rect x="79.6" y="423.7" width="3.4" height="3.4" class="fs"/><rect x="82.3" y="423.1" width="3.4" height="3.4" class="fs"/><rect x="89.9" y="419.2" width="3.4" height="3.4" class="fs"/><rect x="99.4" y="418.1" width="3.4" height="3.4" class="fs"/><rect x="111.7" y="415.3" width="3.4" height="3.4" class="fs"/><rect x="136.5" y="415.3" width="3.4" height="3.4" class="fs"/><rect x="151.4" y="409.2" width="3.4" height="3.4" class="fs"/><rect x="159.7" y="403.7" width="3.4" height="3.4" class="fs"/><rect x="162.7" y="386" width="3.4" height="3.4" class="fs"/><rect x="167.8" y="379.3" width="3.4" height="3.4" class="fs"/><rect x="173" y="376" width="3.4" height="3.4" class="fs"/><rect x="176.4" y="372.6" width="3.4" height="3.4" class="fs"/><rect x="182" y="369.9" width="3.4" height="3.4" class="fs"/><rect x="194.4" y="369.3" width="3.4" height="3.4" class="fs"/><rect x="197.2" y="368.8" width="3.4" height="3.4" class="fs"/><rect x="200.8" y="368.2" width="3.4" height="3.4" class="fs"/><rect x="207" y="367.1" width="3.4" height="3.4" class="fs"/><rect x="211.6" y="366" width="3.4" height="3.4" class="fs"/><rect x="219.5" y="365.4" width="3.4" height="3.4" class="fs"/><rect x="225.8" y="364.3" width="3.4" height="3.4" class="fs"/><rect x="234.8" y="363.2" width="3.4" height="3.4" class="fs"/><rect x="237.8" y="361.6" width="3.4" height="3.4" class="fs"/><rect x="248.7" y="359.3" width="3.4" height="3.4" class="fs"/><rect x="256.7" y="357.7" width="3.4" height="3.4" class="fs"/><rect x="292.5" y="356.6" width="3.4" height="3.4" class="fs"/><rect x="297.5" y="354.9" width="3.4" height="3.4" class="fs"/><rect x="317" y="353.2" width="3.4" height="3.4" class="fs"/></g>
<polyline class="ln" points="43,487.4 47.3,485.2 49.9,483 52.9,482.5 56,479.7 59.1,478.6 62.7,476.9 66.1,475.8 68.2,469.2 71.9,463.6 77.8,460.8 81.3,457 84,456.4 91.6,453.1 101.1,452 113.4,448.1 138.2,448.1 153.1,444.8 161.4,438.7 164.4,435.9 169.5,432 174.7,429.8 178.1,427.6 183.7,427 196.1,426.5 198.9,425.9 202.5,425.9 208.7,425.4 213.3,424.8 221.2,424.2 227.5,424.2 236.5,423.1 239.5,422.6 250.4,420.9 258.4,418.7 294.2,417.6 299.2,415.9 318.7,411.5"/>
<g><path d="M43 485.6L44.6 488.8L41.4 488.8Z" class="os"/><path d="M47.3 483.4L48.9 486.6L45.7 486.6Z" class="os"/><path d="M49.9 481.2L51.5 484.4L48.3 484.4Z" class="os"/><path d="M52.9 480.7L54.5 483.9L51.3 483.9Z" class="os"/><path d="M56 477.9L57.6 481.1L54.4 481.1Z" class="os"/><path d="M59.1 476.8L60.7 480L57.5 480Z" class="os"/><path d="M62.7 475.1L64.3 478.3L61.1 478.3Z" class="os"/><path d="M66.1 474L67.7 477.2L64.5 477.2Z" class="os"/><path d="M68.2 467.4L69.8 470.6L66.6 470.6Z" class="os"/><path d="M71.9 461.8L73.5 465L70.3 465Z" class="os"/><path d="M77.8 459L79.4 462.2L76.2 462.2Z" class="os"/><path d="M81.3 455.2L82.9 458.4L79.7 458.4Z" class="os"/><path d="M84 454.6L85.6 457.8L82.4 457.8Z" class="os"/><path d="M91.6 451.3L93.2 454.5L90 454.5Z" class="os"/><path d="M101.1 450.2L102.7 453.4L99.5 453.4Z" class="os"/><path d="M113.4 446.3L115 449.5L111.8 449.5Z" class="os"/><path d="M138.2 446.3L139.8 449.5L136.6 449.5Z" class="os"/><path d="M153.1 443L154.7 446.2L151.5 446.2Z" class="os"/><path d="M161.4 436.9L163 440.1L159.8 440.1Z" class="os"/><path d="M164.4 434.1L166 437.3L162.8 437.3Z" class="os"/><path d="M169.5 430.2L171.1 433.4L167.9 433.4Z" class="os"/><path d="M174.7 428L176.3 431.2L173.1 431.2Z" class="os"/><path d="M178.1 425.8L179.7 429L176.5 429Z" class="os"/><path d="M183.7 425.2L185.3 428.4L182.1 428.4Z" class="os"/><path d="M196.1 424.7L197.7 427.9L194.5 427.9Z" class="os"/><path d="M198.9 424.1L200.5 427.3L197.3 427.3Z" class="os"/><path d="M202.5 424.1L204.1 427.3L200.9 427.3Z" class="os"/><path d="M208.7 423.6L210.3 426.8L207.1 426.8Z" class="os"/><path d="M213.3 423L214.9 426.2L211.7 426.2Z" class="os"/><path d="M221.2 422.4L222.8 425.6L219.6 425.6Z" class="os"/><path d="M227.5 422.4L229.1 425.6L225.9 425.6Z" class="os"/><path d="M236.5 421.3L238.1 424.5L234.9 424.5Z" class="os"/><path d="M239.5 420.8L241.1 424L237.9 424Z" class="os"/><path d="M250.4 419.1L252 422.3L248.8 422.3Z" class="os"/><path d="M258.4 416.9L260 420.1L256.8 420.1Z" class="os"/><path d="M294.2 415.8L295.8 419L292.6 419Z" class="os"/><path d="M299.2 414.1L300.8 417.3L297.6 417.3Z" class="os"/><path d="M318.7 409.7L320.3 412.9L317.1 412.9Z" class="os"/></g>
<polyline class="ln" points="43,486.9 47.3,482.5 49.9,476.9 52.9,468 56,465.3 59.1,461.4 62.7,459.7 66.1,457 68.2,440.9 71.9,430.3 77.8,423.1 81.3,419.8 84,419.3 91.6,414.8 101.1,413.7 113.4,409.8 138.2,409.3 153.1,403.7 161.4,402.6 164.4,391.5 169.5,386 174.7,382.7 178.1,379.9 183.7,378.2 196.1,378.2 198.9,376.6 202.5,376 208.7,374.9 213.3,374.3 221.2,373.8 227.5,373.8 236.5,372.7 239.5,371.6 250.4,368.8 258.4,367.7 294.2,364.9 299.2,363.3 318.7,361"/>
<g><path d="M43 484.6L45.1 488.7L40.9 488.7Z" class="fs"/><path d="M47.3 480.2L49.4 484.3L45.2 484.3Z" class="fs"/><path d="M49.9 474.6L52 478.7L47.8 478.7Z" class="fs"/><path d="M52.9 465.7L55 469.8L50.8 469.8Z" class="fs"/><path d="M56 463L58.1 467.1L53.9 467.1Z" class="fs"/><path d="M59.1 459.1L61.2 463.2L57 463.2Z" class="fs"/><path d="M62.7 457.4L64.8 461.5L60.6 461.5Z" class="fs"/><path d="M66.1 454.7L68.2 458.8L64 458.8Z" class="fs"/><path d="M68.2 438.6L70.3 442.7L66.1 442.7Z" class="fs"/><path d="M71.9 428L74 432.1L69.8 432.1Z" class="fs"/><path d="M77.8 420.8L79.9 424.9L75.7 424.9Z" class="fs"/><path d="M81.3 417.5L83.4 421.6L79.2 421.6Z" class="fs"/><path d="M84 417L86.1 421.1L81.9 421.1Z" class="fs"/><path d="M91.6 412.5L93.7 416.6L89.5 416.6Z" class="fs"/><path d="M101.1 411.4L103.2 415.5L99 415.5Z" class="fs"/><path d="M113.4 407.5L115.5 411.6L111.3 411.6Z" class="fs"/><path d="M138.2 407L140.3 411.1L136.1 411.1Z" class="fs"/><path d="M153.1 401.4L155.2 405.5L151 405.5Z" class="fs"/><path d="M161.4 400.3L163.5 404.4L159.3 404.4Z" class="fs"/><path d="M164.4 389.2L166.5 393.3L162.3 393.3Z" class="fs"/><path d="M169.5 383.7L171.6 387.8L167.4 387.8Z" class="fs"/><path d="M174.7 380.4L176.8 384.5L172.6 384.5Z" class="fs"/><path d="M178.1 377.6L180.2 381.7L176 381.7Z" class="fs"/><path d="M183.7 375.9L185.8 380L181.6 380Z" class="fs"/><path d="M196.1 375.9L198.2 380L194 380Z" class="fs"/><path d="M198.9 374.3L201 378.4L196.8 378.4Z" class="fs"/><path d="M202.5 373.7L204.6 377.8L200.4 377.8Z" class="fs"/><path d="M208.7 372.6L210.8 376.7L206.6 376.7Z" class="fs"/><path d="M213.3 372L215.4 376.1L211.2 376.1Z" class="fs"/><path d="M221.2 371.5L223.3 375.6L219.1 375.6Z" class="fs"/><path d="M227.5 371.5L229.6 375.6L225.4 375.6Z" class="fs"/><path d="M236.5 370.4L238.6 374.5L234.4 374.5Z" class="fs"/><path d="M239.5 369.3L241.6 373.4L237.4 373.4Z" class="fs"/><path d="M250.4 366.5L252.5 370.6L248.3 370.6Z" class="fs"/><path d="M258.4 365.4L260.5 369.5L256.3 369.5Z" class="fs"/><path d="M294.2 362.6L296.3 366.7L292.1 366.7Z" class="fs"/><path d="M299.2 361L301.3 365.1L297.1 365.1Z" class="fs"/><path d="M318.7 358.7L320.8 362.8L316.6 362.8Z" class="fs"/></g>
<path class="ax" d="M388.9 348.8V486.4H672.1"/>
<text transform="translate(382.7 489.5) scale(1 1)" font-size="9.5" text-anchor="end">0</text>
<text transform="translate(382.7 466.6) scale(1 1)" font-size="9.5" text-anchor="end">100</text>
<text transform="translate(382.7 443.7) scale(1 1)" font-size="9.5" text-anchor="end">200</text>
<text transform="translate(382.7 420.7) scale(1 1)" font-size="9.5" text-anchor="end">300</text>
<text transform="translate(382.7 397.8) scale(1 1)" font-size="9.5" text-anchor="end">400</text>
<text transform="translate(382.7 374.9) scale(1 1)" font-size="9.5" text-anchor="end">500</text>
<text transform="translate(382.7 351.9) scale(1 1)" font-size="9.5" text-anchor="end">600</text>
<path class="tk" d="M385.9 486.4h3M385.9 463.5h3M385.9 440.5h3M385.9 417.6h3M385.9 394.7h3M385.9 371.7h3M385.9 348.8h3M388.9 486.4v3M400.7 486.4v3M412.5 486.4v3M424.3 486.4v3M436.1 486.4v3M447.9 486.4v3M459.7 486.4v3M471.5 486.4v3M483.3 486.4v3M495.1 486.4v3M506.9 486.4v3M518.7 486.4v3M530.5 486.4v3M542.3 486.4v3M554.1 486.4v3M565.9 486.4v3M577.7 486.4v3M589.5 486.4v3M601.3 486.4v3M613.1 486.4v3M624.9 486.4v3M636.7 486.4v3M648.5 486.4v3M660.3 486.4v3M672.1 486.4v3"/>
<polyline class="ln" points="396.9,486.4 401.2,486.3 403.6,486.2 406.6,486 409.7,485.9 412.7,485.8 416.3,485.7 419.7,485.6 421.7,485.4 425.4,485.3 431.1,485.2 434.7,485.1 437.3,485.1 444.8,484.7 454.2,484.4 466.3,483.6 490.7,481.6 505.4,479.1 513.6,476.5 516.6,454.3 521.5,442.4 526.7,435.7 530,415.3 535.6,405.9 547.8,405.2 550.6,404.3 554.1,399.7 560.2,390.5 564.7,384.8 572.5,383 578.8,381.4 587.6,379.1 590.6,378.6 601.3,376.8 609.2,375.9 644.5,374.7 649.4,371.7 668.7,361.9"/>
<g><path d="M395 484.4L398.9 488.3M395 488.3L398.9 484.4" class="mk"/><path d="M399.2 484.3L403.1 488.2M399.2 488.2L403.1 484.3" class="mk"/><path d="M401.7 484.2L405.6 488.1M401.7 488.1L405.6 484.2" class="mk"/><path d="M404.6 484.1L408.5 488M404.6 488L408.5 484.1" class="mk"/><path d="M407.7 484L411.6 487.9M407.7 487.9L411.6 484" class="mk"/><path d="M410.8 483.9L414.7 487.8M410.8 487.8L414.7 483.9" class="mk"/><path d="M414.3 483.7L418.2 487.6M414.3 487.6L418.2 483.7" class="mk"/><path d="M417.7 483.6L421.6 487.5M417.7 487.5L421.6 483.6" class="mk"/><path d="M419.8 483.5L423.7 487.4M419.8 487.4L423.7 483.5" class="mk"/><path d="M423.4 483.4L427.3 487.3M423.4 487.3L427.3 483.4" class="mk"/><path d="M429.2 483.2L433.1 487.1M429.2 487.1L433.1 483.2" class="mk"/><path d="M432.7 483.2L436.6 487.1M432.7 487.1L436.6 483.2" class="mk"/><path d="M435.3 483.1L439.2 487M435.3 487L439.2 483.1" class="mk"/><path d="M442.9 482.8L446.8 486.7M442.9 486.7L446.8 482.8" class="mk"/><path d="M452.2 482.5L456.1 486.4M452.2 486.4L456.1 482.5" class="mk"/><path d="M464.4 481.6L468.3 485.5M464.4 485.5L468.3 481.6" class="mk"/><path d="M488.8 479.6L492.7 483.5M488.8 483.5L492.7 479.6" class="mk"/><path d="M503.4 477.1L507.3 481M503.4 481L507.3 477.1" class="mk"/><path d="M511.7 474.6L515.6 478.5M511.7 478.5L515.6 474.6" class="mk"/><path d="M514.6 452.3L518.5 456.2M514.6 456.2L518.5 452.3" class="mk"/><path d="M519.6 440.4L523.5 444.3M519.6 444.3L523.5 440.4" class="mk"/><path d="M524.8 433.8L528.7 437.7M524.8 437.7L528.7 433.8" class="mk"/><path d="M528.1 413.4L532 417.3M528.1 417.3L532 413.4" class="mk"/><path d="M533.6 404L537.5 407.9M533.6 407.9L537.5 404" class="mk"/><path d="M545.9 403.3L549.8 407.2M545.9 407.2L549.8 403.3" class="mk"/><path d="M548.6 402.3L552.5 406.2M548.6 406.2L552.5 402.3" class="mk"/><path d="M552.1 397.8L556.1 401.7M552.1 401.7L556.1 397.8" class="mk"/><path d="M558.3 388.6L562.2 392.5M558.3 392.5L562.2 388.6" class="mk"/><path d="M562.8 382.9L566.7 386.8M562.8 386.8L566.7 382.9" class="mk"/><path d="M570.6 381L574.5 384.9M570.6 384.9L574.5 381" class="mk"/><path d="M576.8 379.4L580.7 383.3M576.8 383.3L580.7 379.4" class="mk"/><path d="M585.7 377.1L589.6 381M585.7 381L589.6 377.1" class="mk"/><path d="M588.6 376.7L592.5 380.6M588.6 380.6L592.5 376.7" class="mk"/><path d="M599.3 374.8L603.2 378.7M599.3 378.7L603.2 374.8" class="mk"/><path d="M607.3 373.9L611.2 377.8M607.3 377.8L611.2 373.9" class="mk"/><path d="M642.5 372.8L646.4 376.7M642.5 376.7L646.4 372.8" class="mk"/><path d="M647.5 369.8L651.4 373.7M647.5 373.7L651.4 369.8" class="mk"/><path d="M666.7 359.9L670.6 363.8M666.7 363.8L670.6 359.9" class="mk"/></g>
<polyline class="ln" points="396.9,486.3 401.2,486.3 403.6,486.3 406.6,486.3 409.7,486.3 412.7,486.3 416.3,486.3 419.7,486.3 421.7,486.3 425.4,486.3 431.1,486.3 434.7,486.4 437.3,486.4 444.8,486.4 454.2,486.4 466.3,486.3 490.7,485.7 505.4,480.7 513.6,480 516.6,466.2 521.5,458.7 526.7,454.8 530,444.4 535.6,437.1 547.8,436.6 550.6,436.2 554.1,433.7 560.2,427 564.7,422.2 572.5,421.5 578.8,420.8 587.6,420.6 590.6,420.4 601.3,419.7 609.2,419.4 644.5,417.4 649.4,414.8 668.7,408"/>
<g><rect x="395.7" y="485" width="2.5" height="2.5" class="os"/><rect x="399.9" y="485" width="2.5" height="2.5" class="os"/><rect x="402.4" y="485" width="2.5" height="2.5" class="os"/><rect x="405.3" y="485" width="2.5" height="2.5" class="os"/><rect x="408.4" y="485" width="2.5" height="2.5" class="os"/><rect x="411.5" y="485" width="2.5" height="2.5" class="os"/><rect x="415" y="485" width="2.5" height="2.5" class="os"/><rect x="418.4" y="485" width="2.5" height="2.5" class="os"/><rect x="420.5" y="485" width="2.5" height="2.5" class="os"/><rect x="424.1" y="485.1" width="2.5" height="2.5" class="os"/><rect x="429.9" y="485.1" width="2.5" height="2.5" class="os"/><rect x="433.4" y="485.1" width="2.5" height="2.5" class="os"/><rect x="436" y="485.1" width="2.5" height="2.5" class="os"/><rect x="443.6" y="485.1" width="2.5" height="2.5" class="os"/><rect x="452.9" y="485.1" width="2.5" height="2.5" class="os"/><rect x="465.1" y="485.1" width="2.5" height="2.5" class="os"/><rect x="489.5" y="484.5" width="2.5" height="2.5" class="os"/><rect x="504.1" y="479.4" width="2.5" height="2.5" class="os"/><rect x="512.4" y="478.7" width="2.5" height="2.5" class="os"/><rect x="515.3" y="465" width="2.5" height="2.5" class="os"/><rect x="520.3" y="457.4" width="2.5" height="2.5" class="os"/><rect x="525.5" y="453.5" width="2.5" height="2.5" class="os"/><rect x="528.8" y="443.2" width="2.5" height="2.5" class="os"/><rect x="534.3" y="435.8" width="2.5" height="2.5" class="os"/><rect x="546.6" y="435.4" width="2.5" height="2.5" class="os"/><rect x="549.3" y="434.9" width="2.5" height="2.5" class="os"/><rect x="552.9" y="432.4" width="2.5" height="2.5" class="os"/><rect x="559" y="425.8" width="2.5" height="2.5" class="os"/><rect x="563.5" y="420.9" width="2.5" height="2.5" class="os"/><rect x="571.3" y="420.2" width="2.5" height="2.5" class="os"/><rect x="577.5" y="419.6" width="2.5" height="2.5" class="os"/><rect x="586.4" y="419.3" width="2.5" height="2.5" class="os"/><rect x="589.3" y="419.1" width="2.5" height="2.5" class="os"/><rect x="600" y="418.4" width="2.5" height="2.5" class="os"/><rect x="608" y="418.2" width="2.5" height="2.5" class="os"/><rect x="643.2" y="416.1" width="2.5" height="2.5" class="os"/><rect x="648.2" y="413.6" width="2.5" height="2.5" class="os"/><rect x="667.4" y="406.7" width="2.5" height="2.5" class="os"/></g>
<polyline class="ln" points="396.9,486.2 401.2,486 403.6,485.8 406.6,485.4 409.7,485.3 412.7,485.3 416.3,485.2 419.7,485.1 421.7,484.6 425.4,483.9 431.1,483.4 434.7,483.1 437.3,483.1 444.8,482.9 454.2,482.8 466.3,482.7 490.7,482.5 505.4,480 513.6,479.1 516.6,457.7 521.5,450.2 526.7,444.2 530,428.8 535.6,422.2 547.8,422 550.6,420.8 554.1,418.1 560.2,410.9 564.7,406.6 572.5,405.7 578.8,404.8 587.6,404.1 590.6,403.4 601.3,402.5 609.2,402 644.5,400.9 649.4,397.9 668.7,387.3"/>
<g><rect x="395.2" y="484.5" width="3.4" height="3.4" class="fs"/><rect x="399.5" y="484.3" width="3.4" height="3.4" class="fs"/><rect x="401.9" y="484.1" width="3.4" height="3.4" class="fs"/><rect x="404.9" y="483.7" width="3.4" height="3.4" class="fs"/><rect x="408" y="483.6" width="3.4" height="3.4" class="fs"/><rect x="411" y="483.6" width="3.4" height="3.4" class="fs"/><rect x="414.6" y="483.5" width="3.4" height="3.4" class="fs"/><rect x="418" y="483.4" width="3.4" height="3.4" class="fs"/><rect x="420" y="482.9" width="3.4" height="3.4" class="fs"/><rect x="423.7" y="482.2" width="3.4" height="3.4" class="fs"/><rect x="429.4" y="481.7" width="3.4" height="3.4" class="fs"/><rect x="433" y="481.4" width="3.4" height="3.4" class="fs"/><rect x="435.6" y="481.4" width="3.4" height="3.4" class="fs"/><rect x="443.1" y="481.2" width="3.4" height="3.4" class="fs"/><rect x="452.5" y="481.1" width="3.4" height="3.4" class="fs"/><rect x="464.6" y="481" width="3.4" height="3.4" class="fs"/><rect x="489" y="480.8" width="3.4" height="3.4" class="fs"/><rect x="503.7" y="478.3" width="3.4" height="3.4" class="fs"/><rect x="511.9" y="477.4" width="3.4" height="3.4" class="fs"/><rect x="514.9" y="456" width="3.4" height="3.4" class="fs"/><rect x="519.8" y="448.5" width="3.4" height="3.4" class="fs"/><rect x="525" y="442.5" width="3.4" height="3.4" class="fs"/><rect x="528.3" y="427.1" width="3.4" height="3.4" class="fs"/><rect x="533.9" y="420.5" width="3.4" height="3.4" class="fs"/><rect x="546.1" y="420.3" width="3.4" height="3.4" class="fs"/><rect x="548.9" y="419.1" width="3.4" height="3.4" class="fs"/><rect x="552.4" y="416.4" width="3.4" height="3.4" class="fs"/><rect x="558.5" y="409.2" width="3.4" height="3.4" class="fs"/><rect x="563" y="404.9" width="3.4" height="3.4" class="fs"/><rect x="570.8" y="404" width="3.4" height="3.4" class="fs"/><rect x="577.1" y="403.1" width="3.4" height="3.4" class="fs"/><rect x="585.9" y="402.4" width="3.4" height="3.4" class="fs"/><rect x="588.9" y="401.7" width="3.4" height="3.4" class="fs"/><rect x="599.6" y="400.8" width="3.4" height="3.4" class="fs"/><rect x="607.5" y="400.3" width="3.4" height="3.4" class="fs"/><rect x="642.8" y="399.2" width="3.4" height="3.4" class="fs"/><rect x="647.7" y="396.2" width="3.4" height="3.4" class="fs"/><rect x="667" y="385.6" width="3.4" height="3.4" class="fs"/></g>
<polyline class="ln" points="396.9,486.4 401.2,486.3 403.6,486.3 406.6,486.2 409.7,486.2 412.7,486.1 416.3,486.1 419.7,486.1 421.7,486.1 425.4,486 431.1,486 434.7,486 437.3,486 444.8,485.9 454.2,485.8 466.3,484.5 490.7,482.5 505.4,480 513.6,477.2 516.6,451.1 521.5,440.8 526.7,433.9 530,421 535.6,413.5 547.8,413.2 550.6,412.8 554.1,410.9 560.2,402 564.7,396.5 572.5,395.8 578.8,395.4 587.6,394.7 590.6,392.4 601.3,391 609.2,390.8 644.5,389.9 649.4,388.5 668.7,382.1"/>
<g><path d="M396.9 484.6L398.5 487.8L395.3 487.8Z" class="os"/><path d="M401.2 484.5L402.8 487.7L399.6 487.7Z" class="os"/><path d="M403.6 484.5L405.2 487.7L402.1 487.7Z" class="os"/><path d="M406.6 484.4L408.2 487.6L405 487.6Z" class="os"/><path d="M409.7 484.4L411.3 487.6L408.1 487.6Z" class="os"/><path d="M412.7 484.3L414.3 487.5L411.1 487.5Z" class="os"/><path d="M416.3 484.3L417.9 487.5L414.7 487.5Z" class="os"/><path d="M419.7 484.3L421.3 487.5L418.1 487.5Z" class="os"/><path d="M421.7 484.3L423.3 487.5L420.1 487.5Z" class="os"/><path d="M425.4 484.2L427 487.4L423.8 487.4Z" class="os"/><path d="M431.1 484.2L432.7 487.4L429.5 487.4Z" class="os"/><path d="M434.7 484.2L436.3 487.4L433.1 487.4Z" class="os"/><path d="M437.3 484.2L438.9 487.4L435.7 487.4Z" class="os"/><path d="M444.8 484.1L446.4 487.3L443.2 487.3Z" class="os"/><path d="M454.2 484L455.8 487.2L452.6 487.2Z" class="os"/><path d="M466.3 482.7L467.9 485.9L464.7 485.9Z" class="os"/><path d="M490.7 480.7L492.3 483.9L489.1 483.9Z" class="os"/><path d="M505.4 478.2L507 481.4L503.8 481.4Z" class="os"/><path d="M513.6 475.4L515.2 478.6L512 478.6Z" class="os"/><path d="M516.6 449.3L518.2 452.5L515 452.5Z" class="os"/><path d="M521.5 439L523.1 442.2L519.9 442.2Z" class="os"/><path d="M526.7 432.1L528.3 435.3L525.1 435.3Z" class="os"/><path d="M530 419.2L531.6 422.4L528.4 422.4Z" class="os"/><path d="M535.6 411.7L537.2 414.9L534 414.9Z" class="os"/><path d="M547.8 411.4L549.4 414.6L546.2 414.6Z" class="os"/><path d="M550.6 411L552.2 414.2L549 414.2Z" class="os"/><path d="M554.1 409.1L555.7 412.3L552.5 412.3Z" class="os"/><path d="M560.2 400.2L561.8 403.4L558.6 403.4Z" class="os"/><path d="M564.7 394.7L566.3 397.9L563.1 397.9Z" class="os"/><path d="M572.5 394L574.1 397.2L570.9 397.2Z" class="os"/><path d="M578.8 393.6L580.4 396.8L577.2 396.8Z" class="os"/><path d="M587.6 392.9L589.2 396.1L586 396.1Z" class="os"/><path d="M590.6 390.6L592.2 393.8L589 393.8Z" class="os"/><path d="M601.3 389.2L602.9 392.4L599.7 392.4Z" class="os"/><path d="M609.2 389L610.8 392.2L607.6 392.2Z" class="os"/><path d="M644.5 388.1L646.1 391.3L642.9 391.3Z" class="os"/><path d="M649.4 386.7L651 389.9L647.8 389.9Z" class="os"/><path d="M668.7 380.3L670.3 383.5L667.1 383.5Z" class="os"/></g>
<polyline class="ln" points="396.9,486.4 401.2,486.2 403.6,486 406.6,485.9 409.7,485.8 412.7,485.7 416.3,485.6 419.7,485.3 421.7,485 425.4,484.5 431.1,483.9 434.7,483.9 437.3,483.7 444.8,482.9 454.2,481.9 466.3,479.6 490.7,479.1 505.4,473.1 513.6,471.5 516.6,449.2 521.5,439.2 526.7,433.2 530,420.4 535.6,413 547.8,413 550.6,412.3 554.1,409.6 560.2,399 564.7,392.4 572.5,390.5 578.8,388.2 587.6,386.6 590.6,384.1 601.3,383 609.2,382.5 644.5,380.9 649.4,378.8 668.7,372.2"/>
<g><path d="M396.9 484.1L399 488.2L394.8 488.2Z" class="fs"/><path d="M401.2 483.9L403.3 488L399.1 488Z" class="fs"/><path d="M403.6 483.7L405.7 487.8L401.6 487.8Z" class="fs"/><path d="M406.6 483.6L408.7 487.7L404.5 487.7Z" class="fs"/><path d="M409.7 483.5L411.8 487.6L407.6 487.6Z" class="fs"/><path d="M412.7 483.4L414.8 487.5L410.6 487.5Z" class="fs"/><path d="M416.3 483.3L418.4 487.4L414.2 487.4Z" class="fs"/><path d="M419.7 483L421.8 487.1L417.6 487.1Z" class="fs"/><path d="M421.7 482.7L423.8 486.8L419.6 486.8Z" class="fs"/><path d="M425.4 482.2L427.5 486.3L423.3 486.3Z" class="fs"/><path d="M431.1 481.6L433.2 485.7L429 485.7Z" class="fs"/><path d="M434.7 481.6L436.8 485.7L432.6 485.7Z" class="fs"/><path d="M437.3 481.4L439.4 485.5L435.2 485.5Z" class="fs"/><path d="M444.8 480.6L446.9 484.7L442.7 484.7Z" class="fs"/><path d="M454.2 479.6L456.3 483.7L452.1 483.7Z" class="fs"/><path d="M466.3 477.3L468.4 481.4L464.2 481.4Z" class="fs"/><path d="M490.7 476.8L492.8 480.9L488.6 480.9Z" class="fs"/><path d="M505.4 470.8L507.5 474.9L503.3 474.9Z" class="fs"/><path d="M513.6 469.2L515.7 473.3L511.5 473.3Z" class="fs"/><path d="M516.6 446.9L518.7 451L514.5 451Z" class="fs"/><path d="M521.5 436.9L523.6 441L519.4 441Z" class="fs"/><path d="M526.7 430.9L528.8 435L524.6 435Z" class="fs"/><path d="M530 418.1L532.1 422.2L527.9 422.2Z" class="fs"/><path d="M535.6 410.7L537.7 414.8L533.5 414.8Z" class="fs"/><path d="M547.8 410.7L549.9 414.8L545.7 414.8Z" class="fs"/><path d="M550.6 410L552.7 414.1L548.5 414.1Z" class="fs"/><path d="M554.1 407.3L556.2 411.4L552 411.4Z" class="fs"/><path d="M560.2 396.7L562.3 400.8L558.1 400.8Z" class="fs"/><path d="M564.7 390.1L566.8 394.2L562.6 394.2Z" class="fs"/><path d="M572.5 388.2L574.6 392.3L570.4 392.3Z" class="fs"/><path d="M578.8 385.9L580.9 390L576.7 390Z" class="fs"/><path d="M587.6 384.3L589.7 388.4L585.5 388.4Z" class="fs"/><path d="M590.6 381.8L592.7 385.9L588.5 385.9Z" class="fs"/><path d="M601.3 380.7L603.4 384.8L599.2 384.8Z" class="fs"/><path d="M609.2 380.2L611.3 384.3L607.1 384.3Z" class="fs"/><path d="M644.5 378.6L646.6 382.7L642.4 382.7Z" class="fs"/><path d="M649.4 376.5L651.5 380.6L647.3 380.6Z" class="fs"/><path d="M668.7 369.9L670.8 374L666.6 374Z" class="fs"/></g>
<path class="ax" d="M411.3 349V421.1H507.8"/>
<text transform="translate(406.8 423.6) scale(1 1)" font-size="7.6" text-anchor="end">0</text>
<text transform="translate(406.8 405.6) scale(1 1)" font-size="7.6" text-anchor="end">10</text>
<text transform="translate(406.8 387.6) scale(1 1)" font-size="7.6" text-anchor="end">20</text>
<text transform="translate(406.8 369.5) scale(1 1)" font-size="7.6" text-anchor="end">30</text>
<text transform="translate(406.8 351.5) scale(1 1)" font-size="7.6" text-anchor="end">40</text>
<path class="tk" d="M408.8 421.1h2.5M408.8 403.1h2.5M408.8 385.1h2.5M408.8 367h2.5M408.8 349h2.5M411.3 421.1v2.5M422.2 421.1v2.5M433.1 421.1v2.5M443.9 421.1v2.5M454.8 421.1v2.5M465.7 421.1v2.5M476.6 421.1v2.5M487.4 421.1v2.5M498.3 421.1v2.5"/>
<polyline class="ln" points="418.7,420.7 422.6,420.2 424.9,419.3 427.6,418.2 430.4,417.3 433.3,416.4 436.5,415.3 439.7,414.4 441.5,413.5 444.9,412.6 450.2,411.5 453.5,411.2 455.9,410.6 462.9,407.8 471.5,405.6 482.7,398.9 505.2,398.4"/>
<g><path d="M416.8 418.9L420.5 422.6M416.8 422.6L420.5 418.9" class="mk"/><path d="M420.8 418.3L424.5 422M420.8 422L424.5 418.3" class="mk"/><path d="M423 417.4L426.7 421.1M423 421.1L426.7 417.4" class="mk"/><path d="M425.8 416.4L429.5 420.1M425.8 420.1L429.5 416.4" class="mk"/><path d="M428.6 415.5L432.3 419.2M428.6 419.2L432.3 415.5" class="mk"/><path d="M431.4 414.6L435.1 418.3M431.4 418.3L435.1 414.6" class="mk"/><path d="M434.7 413.5L438.4 417.2M434.7 417.2L438.4 413.5" class="mk"/><path d="M437.8 412.6L441.5 416.3M437.8 416.3L441.5 412.6" class="mk"/><path d="M439.7 411.7L443.4 415.4M439.7 415.4L443.4 411.7" class="mk"/><path d="M443.1 410.8L446.8 414.5M443.1 414.5L446.8 410.8" class="mk"/><path d="M448.4 409.7L452.1 413.4M448.4 413.4L452.1 409.7" class="mk"/><path d="M451.7 409.3L455.4 413M451.7 413L455.4 409.3" class="mk"/><path d="M454 408.8L457.7 412.5M454 412.5L457.7 408.8" class="mk"/><path d="M461 405.9L464.7 409.6M461 409.6L464.7 405.9" class="mk"/><path d="M469.6 403.7L473.3 407.4M469.6 407.4L473.3 403.7" class="mk"/><path d="M480.8 397.1L484.5 400.8M480.8 400.8L484.5 397.1" class="mk"/><path d="M503.3 396.5L507 400.2M503.3 400.2L507 396.5" class="mk"/></g>
<polyline class="ln" points="418.7,420.2 422.6,420.2 424.9,420.2 427.6,420.2 430.4,420.2 433.3,420.2 436.5,420.2 439.7,420.2 441.5,420.2 444.9,420.4 450.2,420.6 453.5,420.7 455.9,420.7 462.9,420.7 471.5,420.7 482.7,420.6 505.2,419.7"/>
<g><rect x="417.5" y="419" width="2.3" height="2.3" class="os"/><rect x="421.5" y="419" width="2.3" height="2.3" class="os"/><rect x="423.7" y="419" width="2.3" height="2.3" class="os"/><rect x="426.5" y="419" width="2.3" height="2.3" class="os"/><rect x="429.3" y="419" width="2.3" height="2.3" class="os"/><rect x="432.1" y="419" width="2.3" height="2.3" class="os"/><rect x="435.4" y="419" width="2.3" height="2.3" class="os"/><rect x="438.5" y="419" width="2.3" height="2.3" class="os"/><rect x="440.4" y="419" width="2.3" height="2.3" class="os"/><rect x="443.8" y="419.2" width="2.3" height="2.3" class="os"/><rect x="449.1" y="419.4" width="2.3" height="2.3" class="os"/><rect x="452.4" y="419.6" width="2.3" height="2.3" class="os"/><rect x="454.7" y="419.6" width="2.3" height="2.3" class="os"/><rect x="461.7" y="419.6" width="2.3" height="2.3" class="os"/><rect x="470.3" y="419.6" width="2.3" height="2.3" class="os"/><rect x="481.5" y="419.4" width="2.3" height="2.3" class="os"/><rect x="504" y="418.5" width="2.3" height="2.3" class="os"/></g>
<polyline class="ln" points="418.7,419.3 422.6,418.2 424.9,416.4 427.6,413.5 430.4,412.6 433.3,412.1 436.5,411.5 439.7,410.6 441.5,406.9 444.9,401.3 450.2,397.3 453.5,395.5 455.9,395.5 462.9,393.5 471.5,393.2 482.7,391.7 505.2,391.2"/>
<g><rect x="417.1" y="417.7" width="3.2" height="3.2" class="fs"/><rect x="421" y="416.6" width="3.2" height="3.2" class="fs"/><rect x="423.3" y="414.8" width="3.2" height="3.2" class="fs"/><rect x="426" y="411.9" width="3.2" height="3.2" class="fs"/><rect x="428.8" y="411" width="3.2" height="3.2" class="fs"/><rect x="431.7" y="410.5" width="3.2" height="3.2" class="fs"/><rect x="434.9" y="409.9" width="3.2" height="3.2" class="fs"/><rect x="438.1" y="409" width="3.2" height="3.2" class="fs"/><rect x="439.9" y="405.3" width="3.2" height="3.2" class="fs"/><rect x="443.3" y="399.7" width="3.2" height="3.2" class="fs"/><rect x="448.6" y="395.7" width="3.2" height="3.2" class="fs"/><rect x="451.9" y="393.9" width="3.2" height="3.2" class="fs"/><rect x="454.3" y="393.9" width="3.2" height="3.2" class="fs"/><rect x="461.3" y="391.9" width="3.2" height="3.2" class="fs"/><rect x="469.9" y="391.6" width="3.2" height="3.2" class="fs"/><rect x="481.1" y="390.1" width="3.2" height="3.2" class="fs"/><rect x="503.6" y="389.6" width="3.2" height="3.2" class="fs"/></g>
<polyline class="ln" points="418.7,420.7 422.6,420.4 424.9,420 427.6,419.7 430.4,419.3 433.3,419.1 436.5,418.9 439.7,418.8 441.5,418.4 444.9,418.2 450.2,417.9 453.5,417.9 455.9,417.7 462.9,417.3 471.5,416.4 482.7,406.3 505.2,405.6"/>
<g><path d="M418.7 419L420.2 422L417.2 422Z" class="os"/><path d="M422.6 418.7L424.1 421.7L421.1 421.7Z" class="os"/><path d="M424.9 418.3L426.4 421.3L423.4 421.3Z" class="os"/><path d="M427.6 418L429.1 421L426.1 421Z" class="os"/><path d="M430.4 417.6L431.9 420.6L428.9 420.6Z" class="os"/><path d="M433.3 417.4L434.8 420.4L431.8 420.4Z" class="os"/><path d="M436.5 417.2L438 420.2L435 420.2Z" class="os"/><path d="M439.7 417.1L441.2 420.1L438.2 420.1Z" class="os"/><path d="M441.5 416.7L443 419.7L440 419.7Z" class="os"/><path d="M444.9 416.5L446.4 419.5L443.4 419.5Z" class="os"/><path d="M450.2 416.2L451.7 419.2L448.7 419.2Z" class="os"/><path d="M453.5 416.2L455 419.2L452 419.2Z" class="os"/><path d="M455.9 416L457.4 419L454.4 419Z" class="os"/><path d="M462.9 415.6L464.4 418.6L461.4 418.6Z" class="os"/><path d="M471.5 414.7L473 417.7L470 417.7Z" class="os"/><path d="M482.7 404.6L484.2 407.6L481.2 407.6Z" class="os"/><path d="M505.2 403.9L506.7 406.9L503.7 406.9Z" class="os"/></g>
<polyline class="ln" points="418.7,420.7 422.6,419.3 424.9,418.2 427.6,417.3 430.4,416.4 433.3,415.3 436.5,414.4 439.7,412.6 441.5,410.1 444.9,406 450.2,401.3 453.5,401.3 455.9,399.8 462.9,393.5 471.5,386 482.7,367.9 505.2,366.1"/>
<g><path d="M418.7 418.5L420.7 422.4L416.7 422.4Z" class="fs"/><path d="M422.6 417.1L424.6 421L420.6 421Z" class="fs"/><path d="M424.9 416L426.9 419.9L422.9 419.9Z" class="fs"/><path d="M427.6 415.1L429.6 419L425.6 419Z" class="fs"/><path d="M430.4 414.2L432.4 418.1L428.4 418.1Z" class="fs"/><path d="M433.3 413.1L435.3 417L431.3 417Z" class="fs"/><path d="M436.5 412.2L438.5 416.1L434.5 416.1Z" class="fs"/><path d="M439.7 410.4L441.7 414.3L437.7 414.3Z" class="fs"/><path d="M441.5 407.9L443.5 411.8L439.5 411.8Z" class="fs"/><path d="M444.9 403.8L446.9 407.7L442.9 407.7Z" class="fs"/><path d="M450.2 399.1L452.2 403L448.2 403Z" class="fs"/><path d="M453.5 399.1L455.5 403L451.5 403Z" class="fs"/><path d="M455.9 397.6L457.9 401.5L453.9 401.5Z" class="fs"/><path d="M462.9 391.3L464.9 395.2L460.9 395.2Z" class="fs"/><path d="M471.5 383.8L473.5 387.7L469.5 387.7Z" class="fs"/><path d="M482.7 365.7L484.7 369.6L480.7 369.6Z" class="fs"/><path d="M505.2 363.9L507.2 367.8L503.2 367.8Z" class="fs"/></g>
<text transform="translate(35.3 504) scale(1 1)" font-size="8.9" text-anchor="middle">D</text>
<text transform="translate(47.3 504) scale(1 1)" font-size="8.9" text-anchor="middle">J</text>
<text transform="translate(59.2 504) scale(1 1)" font-size="8.9" text-anchor="middle">F</text>
<text transform="translate(71.2 504) scale(1 1)" font-size="8.9" text-anchor="middle">M</text>
<text transform="translate(83.2 504) scale(1 1)" font-size="8.9" text-anchor="middle">A</text>
<text transform="translate(95.2 504) scale(1 1)" font-size="8.9" text-anchor="middle">M</text>
<text transform="translate(107.1 504) scale(1 1)" font-size="8.9" text-anchor="middle">J</text>
<text transform="translate(119.1 504) scale(1 1)" font-size="8.9" text-anchor="middle">J</text>
<text transform="translate(131.1 504) scale(1 1)" font-size="8.9" text-anchor="middle">A</text>
<text transform="translate(143 504) scale(1 1)" font-size="8.9" text-anchor="middle">S</text>
<text transform="translate(155 504) scale(1 1)" font-size="8.9" text-anchor="middle">O</text>
<text transform="translate(167 504) scale(1 1)" font-size="8.9" text-anchor="middle">N</text>
<text transform="translate(179 504) scale(1 1)" font-size="8.9" text-anchor="middle">D</text>
<text transform="translate(190.9 504) scale(1 1)" font-size="8.9" text-anchor="middle">J</text>
<text transform="translate(202.9 504) scale(1 1)" font-size="8.9" text-anchor="middle">F</text>
<text transform="translate(214.9 504) scale(1 1)" font-size="8.9" text-anchor="middle">M</text>
<text transform="translate(226.8 504) scale(1 1)" font-size="8.9" text-anchor="middle">A</text>
<text transform="translate(238.8 504) scale(1 1)" font-size="8.9" text-anchor="middle">M</text>
<text transform="translate(250.8 504) scale(1 1)" font-size="8.9" text-anchor="middle">J</text>
<text transform="translate(262.7 504) scale(1 1)" font-size="8.9" text-anchor="middle">J</text>
<text transform="translate(274.7 504) scale(1 1)" font-size="8.9" text-anchor="middle">A</text>
<text transform="translate(286.7 504) scale(1 1)" font-size="8.9" text-anchor="middle">S</text>
<text transform="translate(298.7 504) scale(1 1)" font-size="8.9" text-anchor="middle">O</text>
<text transform="translate(310.6 504) scale(1 1)" font-size="8.9" text-anchor="middle">N</text>
<text transform="translate(389.3 502.6) scale(1 1)" font-size="8.9" text-anchor="middle">D</text>
<text transform="translate(401.1 502.6) scale(1 1)" font-size="8.9" text-anchor="middle">J</text>
<text transform="translate(412.9 502.6) scale(1 1)" font-size="8.9" text-anchor="middle">F</text>
<text transform="translate(424.7 502.6) scale(1 1)" font-size="8.9" text-anchor="middle">M</text>
<text transform="translate(436.5 502.6) scale(1 1)" font-size="8.9" text-anchor="middle">A</text>
<text transform="translate(448.3 502.6) scale(1 1)" font-size="8.9" text-anchor="middle">M</text>
<text transform="translate(460.1 502.6) scale(1 1)" font-size="8.9" text-anchor="middle">J</text>
<text transform="translate(471.9 502.6) scale(1 1)" font-size="8.9" text-anchor="middle">J</text>
<text transform="translate(483.7 502.6) scale(1 1)" font-size="8.9" text-anchor="middle">A</text>
<text transform="translate(495.5 502.6) scale(1 1)" font-size="8.9" text-anchor="middle">S</text>
<text transform="translate(507.3 502.6) scale(1 1)" font-size="8.9" text-anchor="middle">O</text>
<text transform="translate(519.1 502.6) scale(1 1)" font-size="8.9" text-anchor="middle">N</text>
<text transform="translate(530.9 502.6) scale(1 1)" font-size="8.9" text-anchor="middle">D</text>
<text transform="translate(542.7 502.6) scale(1 1)" font-size="8.9" text-anchor="middle">J</text>
<text transform="translate(554.5 502.6) scale(1 1)" font-size="8.9" text-anchor="middle">F</text>
<text transform="translate(566.3 502.6) scale(1 1)" font-size="8.9" text-anchor="middle">M</text>
<text transform="translate(578.1 502.6) scale(1 1)" font-size="8.9" text-anchor="middle">A</text>
<text transform="translate(589.9 502.6) scale(1 1)" font-size="8.9" text-anchor="middle">M</text>
<text transform="translate(601.7 502.6) scale(1 1)" font-size="8.9" text-anchor="middle">J</text>
<text transform="translate(613.5 502.6) scale(1 1)" font-size="8.9" text-anchor="middle">J</text>
<text transform="translate(625.3 502.6) scale(1 1)" font-size="8.9" text-anchor="middle">A</text>
<text transform="translate(637.1 502.6) scale(1 1)" font-size="8.9" text-anchor="middle">S</text>
<text transform="translate(648.9 502.6) scale(1 1)" font-size="8.9" text-anchor="middle">O</text>
<text transform="translate(660.7 502.6) scale(1 1)" font-size="8.9" text-anchor="middle">N</text>
<text transform="translate(411.7 434.1) scale(1 1)" font-size="8" text-anchor="middle">D</text>
<text transform="translate(422.6 434.1) scale(1 1)" font-size="8" text-anchor="middle">J</text>
<text transform="translate(433.5 434.1) scale(1 1)" font-size="8" text-anchor="middle">F</text>
<text transform="translate(444.3 434.1) scale(1 1)" font-size="8" text-anchor="middle">M</text>
<text transform="translate(455.2 434.1) scale(1 1)" font-size="8" text-anchor="middle">A</text>
<text transform="translate(466.1 434.1) scale(1 1)" font-size="8" text-anchor="middle">M</text>
<text transform="translate(477 434.1) scale(1 1)" font-size="8" text-anchor="middle">J</text>
<text transform="translate(487.8 434.1) scale(1 1)" font-size="8" text-anchor="middle">J</text>
<text transform="translate(498.7 434.1) scale(1 1)" font-size="8" text-anchor="middle">A</text>
<path class="ul" d="M34 508.9H42.7M45.2 508.9H190.8M194 508.9H329"/>
<path class="ul" d="M388.7 507.6H397M400.3 507.6H541.9M545.7 507.6H677.4"/>
<text transform="translate(42.7 521) scale(1 1)" font-size="9.3" text-anchor="middle">2005</text>
<text transform="translate(114.3 521) scale(1 1)" font-size="9.3" text-anchor="middle">2006</text>
<text transform="translate(263 521) scale(1 1)" font-size="9.3" text-anchor="middle">2007</text>
<text transform="translate(396.3 519.8) scale(1 1)" font-size="9.3" text-anchor="middle">2005</text>
<text transform="translate(466.6 519.8) scale(1 1)" font-size="9.3" text-anchor="middle">2006</text>
<text transform="translate(613 519.8) scale(1 1)" font-size="9.3" text-anchor="middle">2007</text>
<text transform="translate(180.4 529.2) scale(1 1)" font-size="8.4" text-anchor="middle" font-weight="bold">Months</text>
<text transform="translate(532.4 527.9) scale(1 1)" font-size="8.4" text-anchor="middle" font-weight="bold">Months</text>
<text transform="translate(6.6 81.8) scale(1 1) rotate(-90)" font-size="9.6" text-anchor="middle" font-weight="bold">pH</text>
<text transform="translate(359 82) scale(1 1) rotate(-90)" font-size="9.1" text-anchor="middle" font-weight="bold">P (mg/lysimeter)</text>
<text transform="translate(7.7 250.5) scale(1 1) rotate(-90)" font-size="8.8" text-anchor="middle" font-weight="bold">Ca (mg/lysimeter)</text>
<text transform="translate(355.5 249.3) scale(1 1) rotate(-90)" font-size="8.8" text-anchor="middle" font-weight="bold">K (mg/lysimeter)</text>
<text transform="translate(8 415) scale(1 1) rotate(-90)" font-size="8.8" text-anchor="middle" font-weight="bold">NH<tspan font-size="6" dy="2">4</tspan><tspan dy="-2">-N (mg/lysimeter)</tspan></text>
<text transform="translate(357.9 414) scale(1 1) rotate(-90)" font-size="9.1" text-anchor="middle" font-weight="bold">NO<tspan font-size="6.2" dy="2">3</tspan><tspan dy="-2">-N (mg/lysimeter)</tspan></text>
<path class="ln" d="M70.9 3.9H87.1"/>
<path d="M76.5 1.9L80.4 5.8M76.5 5.8L80.4 1.9" class="mk"/>
<text transform="translate(89.2 7) scale(1 1)" font-size="8.7">CT</text>
<path class="ln" d="M112.2 3.9H128.4"/>
<rect x="118.8" y="2.6" width="2.5" height="2.5" class="os"/>
<text transform="translate(130.7 7) scale(1 1)" font-size="8.7">LA</text>
<path class="ln" d="M152.8 3.9H169"/>
<rect x="159" y="2.2" width="3.4" height="3.4" class="fs"/>
<text transform="translate(171.6 7) scale(1 1)" font-size="8.7">LAN</text>
<path class="ln" d="M199.8 3.9H216"/>
<path d="M208 2.1L209.6 5.3L206.4 5.3Z" class="os"/>
<text transform="translate(218.8 7) scale(1 1)" font-size="8.7">PA</text>
<path class="ln" d="M241.8 3.9H258"/>
<path d="M249.7 1.6L251.8 5.7L247.6 5.7Z" class="fs"/>
<text transform="translate(260.8 7) scale(1 1)" font-size="8.7">PAN</text>
<text transform="translate(673.9 25.6) scale(1 1)" font-size="9.4">a</text>
<text transform="translate(673.9 36.8) scale(1 1)" font-size="9.4">a</text>
<text transform="translate(673.9 53) scale(1 1)" font-size="9.4">ab</text>
<text transform="translate(673.9 64.3) scale(1 1)" font-size="9.4">ab</text>
<text transform="translate(673.9 75.9) scale(1 1)" font-size="9.4">b</text>
<text transform="translate(673.1 178.7) scale(1 1)" font-size="9.4">a</text>
<text transform="translate(673.1 190.2) scale(1 1)" font-size="9.4">a</text>
<text transform="translate(674.3 232.1) scale(1 1)" font-size="9.4">b</text>
<text transform="translate(674.3 243.5) scale(1 1)" font-size="9.4">b</text>
<text transform="translate(674.3 285.8) scale(1 1)" font-size="9.4">c</text>
<text transform="translate(322.4 353.9) scale(1 1)" font-size="9.4">a</text>
<text transform="translate(322.4 363.4) scale(1 1)" font-size="9.4">ab</text>
<text transform="translate(322.4 384.8) scale(1 1)" font-size="9.4">bc</text>
<text transform="translate(322.4 407.2) scale(1 1)" font-size="9.4">bc</text>
<text transform="translate(322.4 417.6) scale(1 1)" font-size="9.4">c</text>
<text transform="translate(674.5 364) scale(1 1)" font-size="9.4">a</text>
<text transform="translate(674.5 375.3) scale(1 1)" font-size="9.4">a</text>
<text transform="translate(674.5 387.1) scale(1 1)" font-size="9.4">ab</text>
<text transform="translate(674.5 398.4) scale(1 1)" font-size="9.4">ab</text>
<text transform="translate(674.5 410.2) scale(1 1)" font-size="9.4">b</text>
<path class="br" d="M397 476.8C397 473.4 399 472.8 403 472.8H440C444.5 472.8 446.8 471.5 446.8 467.7C446.8 471.5 449 472.8 453.5 472.8H490C494.5 472.8 496.3 473.4 496.3 476.8"/>
<path class="ln" d="M446.8 461.5L455.6 446.3"/>
<path d="M457.6 442.9L456.9 448.8L452.9 446.5Z" fill="#000" stroke="#000" stroke-width="0.6"/>
</svg>
</body></html>
